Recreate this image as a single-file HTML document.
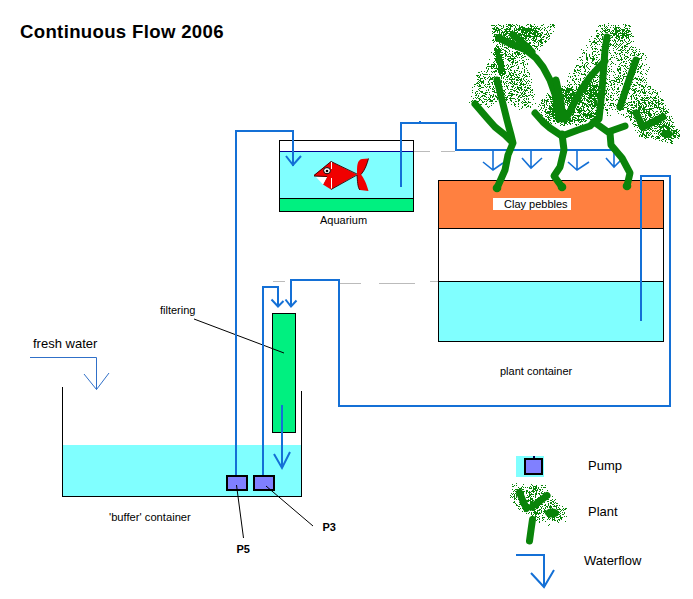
<!DOCTYPE html>
<html><head><meta charset="utf-8">
<style>
html,body{margin:0;padding:0;background:#fff;width:693px;height:599px;overflow:hidden}
svg{position:absolute;left:0;top:0;display:block}
text{font-family:"Liberation Sans",sans-serif;fill:#000}
</style></head><body>
<svg width="693" height="599" viewBox="0 0 693 599">
<rect x="0" y="0" width="693" height="599" fill="#fff"/>
<!-- title -->
<text x="20" y="38" font-size="18.6" font-weight="bold" textLength="203.5" lengthAdjust="spacing">Continuous Flow 2006</text>

<!-- aquarium -->
<g shape-rendering="crispEdges">
<rect x="279.5" y="140.5" width="134" height="71" fill="#fff" stroke="#000" stroke-width="1"/>
<rect x="280" y="152" width="133" height="47" fill="#80ffff"/>
<rect x="280" y="151" width="133" height="1" fill="#000090"/>
<rect x="280" y="199" width="133" height="12" fill="#00f080"/>
<rect x="280" y="198" width="133" height="1" fill="#000"/>
</g>
<text x="320" y="224" font-size="11">Aquarium</text>

<!-- plant container -->
<g shape-rendering="crispEdges">
<rect x="438.5" y="180.5" width="225" height="161" fill="#fff" stroke="#000"/>
<rect x="439" y="181" width="224" height="47" fill="#ff8040"/>
<rect x="439" y="228" width="224" height="1" fill="#000"/>
<rect x="439" y="282" width="224" height="59" fill="#80ffff"/>
<rect x="439" y="281" width="224" height="1" fill="#000"/>
<rect x="493" y="198" width="78" height="12" fill="#fff"/>
</g>
<text x="504" y="208" font-size="11">Clay pebbles</text>
<text x="500" y="375" font-size="11">plant container</text>

<!-- filter -->
<rect x="272.5" y="313.5" width="23" height="119" fill="#00f080" stroke="#000" shape-rendering="crispEdges"/>
<text x="160" y="314" font-size="11">filtering</text>
<line x1="194" y1="319" x2="284" y2="353" stroke="#000" stroke-width="1"/>

<!-- buffer container -->
<g shape-rendering="crispEdges">
<rect x="63" y="445" width="238" height="51" fill="#80ffff"/>
<rect x="62" y="387" width="1" height="110" fill="#000"/>
<rect x="301" y="391" width="1" height="106" fill="#000"/>
<rect x="62" y="496" width="240" height="1" fill="#000"/>
</g>
<text x="109" y="521" font-size="11.2">'buffer' container</text>

<!-- fresh water -->
<text x="33" y="348" font-size="13">fresh water</text>
<path d="M30 357.5H96.5V389.5M84 374L96.5 389.5L109 373" fill="none" stroke="#3070c8" stroke-width="1"/>

<!-- pipes -->
<g fill="none" stroke="#1470d6" stroke-width="2" stroke-linejoin="miter">
<path d="M236 475V131H293V166"/>
<path d="M286 156L293 165L301 156"/>
<path d="M263 475V287H278V306"/>
<path d="M271.5 299.5L278 306.5L283.5 301"/>
<path d="M641 321V176H670V406H339V280H291V306"/>
<path d="M285.5 299.5L291 306.5L296.5 300.5"/>
<path d="M401 187V123H456V150H612"/>
<path d="M419 121.5h2" stroke-width="1"/>
<path d="M282 405V468M274 454L282 468L290 452"/>
</g>
<g fill="none" stroke="#1470d6" stroke-width="1.6">
<path d="M493 150V170M483 162L493 170L503 163"/>
<path d="M531 150V168M522 158L531 168L542 158"/>
<path d="M577 150V170M568 162L577 170L589 162"/>
<path d="M614 150V167M606 158L614 167L622 159"/>
</g>

<!-- gray dashed -->
<g stroke="#bbbbbb" stroke-width="1" shape-rendering="crispEdges">
<line x1="414" y1="151.5" x2="430" y2="151.5"/>
<line x1="441" y1="151.5" x2="455" y2="151.5"/>
<line x1="273" y1="281.5" x2="285" y2="281.5"/>
<line x1="340" y1="283.5" x2="361" y2="283.5"/>
<line x1="379" y1="283.5" x2="415" y2="283.5"/>
<line x1="430" y1="281.5" x2="438" y2="281.5"/>
</g>

<!-- pumps -->
<g shape-rendering="crispEdges">
<rect x="227" y="476" width="20" height="14" fill="#8080ff" stroke="#000" stroke-width="2"/>
<rect x="254" y="476" width="20" height="14" fill="#8080ff" stroke="#000" stroke-width="2"/>
</g>
<line x1="236.5" y1="485" x2="243.5" y2="538" stroke="#000" stroke-width="1"/>
<line x1="266" y1="486" x2="313" y2="526" stroke="#000" stroke-width="1"/>
<text x="236.5" y="552.5" font-size="11" font-weight="bold">P5</text>
<text x="322.5" y="531" font-size="11" font-weight="bold">P3</text>

<!-- legend -->
<rect x="516" y="456" width="28" height="21" fill="#80ffff" shape-rendering="crispEdges"/>
<rect x="525" y="459" width="17" height="15" fill="#8080ff" stroke="#000" stroke-width="2" shape-rendering="crispEdges"/>
<rect x="533" y="456" width="2" height="2" fill="#000050" shape-rendering="crispEdges"/>
<text x="588" y="470" font-size="13">Pump</text>
<text x="588" y="515.5" font-size="13">Plant</text>
<text x="584" y="565" font-size="13">Waterflow</text>
<path d="M516 555H544V587M531 573L544 587L554 570" fill="none" stroke="#1470d6" stroke-width="2"/>

<!-- fish -->
<g>
<path d="M314 175L331 161.5L357 174.5L331 189.5L323 184.5L327 177L314 176Z" fill="#f00000"/>
<path d="M316 177L327 177L323 184.5Z" fill="#fff"/>
<path d="M357 174.5C357 166 357 160 362 159L368.5 158.5C367 164 365 170 361 174.5C364 178 367 185 368.5 191L360 190C357.5 188 357.5 180 357 174.5Z" fill="#f00000"/>
<path d="M314 175.5L331 161.5L357 174M357 175L331 189.5M314 176L327 176.5M361 174.5C365 170 367 164 368.5 158.5M360 190C357.5 188 357.5 180 357 175" fill="none" stroke="#300" stroke-width="0.9"/>
<ellipse cx="327" cy="170.7" rx="3.4" ry="3.1" fill="#fff" stroke="#000" stroke-width="1"/>
<circle cx="327" cy="171" r="1.3" fill="#000"/>
<path d="M331.5 162V169M331.5 178V188.5" stroke="#fff" stroke-width="1"/>
</g>
<!-- plants -->
<!--PLANTS-->
<path fill="#0a840a" shape-rendering="crispEdges" d="M469 102h1v1h-1zM471 96h1v1h-1zM471 101h1v1h-1zM472 87h1v1h-1zM472 90h1v1h-1zM472 92h1v1h-1zM472 100h1v1h-1zM473 98h1v1h-1zM474 84h1v1h-1zM474 86h1v1h-1zM474 100h1v1h-1zM474 101h1v1h-1zM475 84h1v1h-1zM475 92h1v1h-1zM475 93h1v1h-1zM475 95h1v1h-1zM475 97h1v1h-1zM475 100h1v1h-1zM475 103h1v1h-1zM475 104h1v1h-1zM475 105h1v1h-1zM476 75h1v1h-1zM476 83h1v1h-1zM476 91h1v1h-1zM476 94h1v1h-1zM476 95h1v1h-1zM476 98h1v1h-1zM477 75h1v1h-1zM477 76h1v1h-1zM477 79h1v1h-1zM477 82h1v1h-1zM477 83h1v1h-1zM477 85h1v1h-1zM477 91h1v1h-1zM477 93h1v1h-1zM477 97h1v1h-1zM477 101h1v1h-1zM477 102h1v1h-1zM477 105h1v1h-1zM478 72h1v1h-1zM478 75h1v1h-1zM478 77h1v1h-1zM478 79h1v1h-1zM478 81h1v1h-1zM478 83h1v1h-1zM478 86h1v1h-1zM478 89h1v1h-1zM478 95h1v1h-1zM478 96h1v1h-1zM478 98h1v1h-1zM478 101h1v1h-1zM478 103h1v1h-1zM478 105h1v1h-1zM479 72h1v1h-1zM479 76h1v1h-1zM479 77h1v1h-1zM479 80h1v1h-1zM479 82h1v1h-1zM479 84h1v1h-1zM479 85h1v1h-1zM479 86h1v1h-1zM479 88h1v1h-1zM479 90h1v1h-1zM479 93h1v1h-1zM479 98h1v1h-1zM479 99h1v1h-1zM479 100h1v1h-1zM479 105h1v1h-1zM480 74h1v1h-1zM480 75h1v1h-1zM480 78h1v1h-1zM480 79h1v1h-1zM480 80h1v1h-1zM480 81h1v1h-1zM480 85h1v1h-1zM480 86h1v1h-1zM480 88h1v1h-1zM480 91h1v1h-1zM480 97h1v1h-1zM480 99h1v1h-1zM480 104h1v1h-1zM481 71h1v1h-1zM481 78h1v1h-1zM481 81h1v1h-1zM481 82h1v1h-1zM481 83h1v1h-1zM481 87h1v1h-1zM481 91h1v1h-1zM481 92h1v1h-1zM481 96h1v1h-1zM481 100h1v1h-1zM481 104h1v1h-1zM482 73h1v1h-1zM482 78h1v1h-1zM482 81h1v1h-1zM482 82h1v1h-1zM482 87h1v1h-1zM482 91h1v1h-1zM482 92h1v1h-1zM482 95h1v1h-1zM482 96h1v1h-1zM482 101h1v1h-1zM482 102h1v1h-1zM483 74h1v1h-1zM483 76h1v1h-1zM483 80h1v1h-1zM483 81h1v1h-1zM483 82h1v1h-1zM483 83h1v1h-1zM483 87h1v1h-1zM483 93h1v1h-1zM483 95h1v1h-1zM483 98h1v1h-1zM483 102h1v1h-1zM484 71h1v1h-1zM484 74h1v1h-1zM484 77h1v1h-1zM484 78h1v1h-1zM484 85h1v1h-1zM484 93h1v1h-1zM484 95h1v1h-1zM484 96h1v1h-1zM484 99h1v1h-1zM484 101h1v1h-1zM485 74h1v1h-1zM485 77h1v1h-1zM485 79h1v1h-1zM485 84h1v1h-1zM485 86h1v1h-1zM485 92h1v1h-1zM485 93h1v1h-1zM485 94h1v1h-1zM485 96h1v1h-1zM485 99h1v1h-1zM485 104h1v1h-1zM486 67h1v1h-1zM486 68h1v1h-1zM486 72h1v1h-1zM486 74h1v1h-1zM486 87h1v1h-1zM486 90h1v1h-1zM486 92h1v1h-1zM486 94h1v1h-1zM486 97h1v1h-1zM486 99h1v1h-1zM486 101h1v1h-1zM486 103h1v1h-1zM486 104h1v1h-1zM487 64h1v1h-1zM487 66h1v1h-1zM487 70h1v1h-1zM487 71h1v1h-1zM487 74h1v1h-1zM487 78h1v1h-1zM487 84h1v1h-1zM487 86h1v1h-1zM487 92h1v1h-1zM487 100h1v1h-1zM487 106h1v1h-1zM488 63h1v1h-1zM488 64h1v1h-1zM488 66h1v1h-1zM488 68h1v1h-1zM488 69h1v1h-1zM488 77h1v1h-1zM488 81h1v1h-1zM488 82h1v1h-1zM488 84h1v1h-1zM488 89h1v1h-1zM488 90h1v1h-1zM488 97h1v1h-1zM488 99h1v1h-1zM488 107h1v1h-1zM489 59h1v1h-1zM489 66h1v1h-1zM489 74h1v1h-1zM489 76h1v1h-1zM489 79h1v1h-1zM489 80h1v1h-1zM489 83h1v1h-1zM489 84h1v1h-1zM489 86h1v1h-1zM489 87h1v1h-1zM489 92h1v1h-1zM489 94h1v1h-1zM489 98h1v1h-1zM489 99h1v1h-1zM489 101h1v1h-1zM489 106h1v1h-1zM490 66h1v1h-1zM490 77h1v1h-1zM490 78h1v1h-1zM490 79h1v1h-1zM490 86h1v1h-1zM490 88h1v1h-1zM490 95h1v1h-1zM490 96h1v1h-1zM490 97h1v1h-1zM490 99h1v1h-1zM490 100h1v1h-1zM490 101h1v1h-1zM491 25h1v1h-1zM491 52h1v1h-1zM491 64h1v1h-1zM491 65h1v1h-1zM491 66h1v1h-1zM491 67h1v1h-1zM491 68h1v1h-1zM491 71h1v1h-1zM491 74h1v1h-1zM491 78h1v1h-1zM491 79h1v1h-1zM491 82h1v1h-1zM491 95h1v1h-1zM491 100h1v1h-1zM491 101h1v1h-1zM491 103h1v1h-1zM491 105h1v1h-1zM492 25h1v1h-1zM492 28h1v1h-1zM492 31h1v1h-1zM492 33h1v1h-1zM492 40h1v1h-1zM492 64h1v1h-1zM492 66h1v1h-1zM492 68h1v1h-1zM492 72h1v1h-1zM492 77h1v1h-1zM492 78h1v1h-1zM492 79h1v1h-1zM492 82h1v1h-1zM492 83h1v1h-1zM492 84h1v1h-1zM492 88h1v1h-1zM492 89h1v1h-1zM492 91h1v1h-1zM492 96h1v1h-1zM492 97h1v1h-1zM492 100h1v1h-1zM492 101h1v1h-1zM493 25h1v1h-1zM493 28h1v1h-1zM493 29h1v1h-1zM493 32h1v1h-1zM493 36h1v1h-1zM493 39h1v1h-1zM493 40h1v1h-1zM493 42h1v1h-1zM493 53h1v1h-1zM493 54h1v1h-1zM493 62h1v1h-1zM493 64h1v1h-1zM493 65h1v1h-1zM493 66h1v1h-1zM493 67h1v1h-1zM493 71h1v1h-1zM493 77h1v1h-1zM493 81h1v1h-1zM493 86h1v1h-1zM493 87h1v1h-1zM493 89h1v1h-1zM493 91h1v1h-1zM493 94h1v1h-1zM493 95h1v1h-1zM493 96h1v1h-1zM493 99h1v1h-1zM493 103h1v1h-1zM494 25h1v1h-1zM494 27h1v1h-1zM494 28h1v1h-1zM494 29h1v1h-1zM494 31h1v1h-1zM494 32h1v1h-1zM494 34h1v1h-1zM494 35h1v1h-1zM494 36h1v1h-1zM494 41h1v1h-1zM494 48h1v1h-1zM494 49h1v1h-1zM494 50h1v1h-1zM494 52h1v1h-1zM494 54h1v1h-1zM494 55h1v1h-1zM494 58h1v1h-1zM494 61h1v1h-1zM494 63h1v1h-1zM494 64h1v1h-1zM494 65h1v1h-1zM494 66h1v1h-1zM494 68h1v1h-1zM494 71h1v1h-1zM494 72h1v1h-1zM494 76h1v1h-1zM494 81h1v1h-1zM494 82h1v1h-1zM494 83h1v1h-1zM494 84h1v1h-1zM494 88h1v1h-1zM494 90h1v1h-1zM494 91h1v1h-1zM494 92h1v1h-1zM494 98h1v1h-1zM494 99h1v1h-1zM495 26h1v1h-1zM495 29h1v1h-1zM495 30h1v1h-1zM495 31h1v1h-1zM495 34h1v1h-1zM495 36h1v1h-1zM495 37h1v1h-1zM495 38h1v1h-1zM495 39h1v1h-1zM495 40h1v1h-1zM495 47h1v1h-1zM495 48h1v1h-1zM495 49h1v1h-1zM495 50h1v1h-1zM495 51h1v1h-1zM495 52h1v1h-1zM495 53h1v1h-1zM495 54h1v1h-1zM495 56h1v1h-1zM495 58h1v1h-1zM495 59h1v1h-1zM495 60h1v1h-1zM495 64h1v1h-1zM495 68h1v1h-1zM495 70h1v1h-1zM495 71h1v1h-1zM495 74h1v1h-1zM495 81h1v1h-1zM495 92h1v1h-1zM495 95h1v1h-1zM495 96h1v1h-1zM495 101h1v1h-1zM496 25h1v1h-1zM496 27h1v1h-1zM496 28h1v1h-1zM496 29h1v1h-1zM496 30h1v1h-1zM496 34h1v1h-1zM496 35h1v1h-1zM496 41h1v1h-1zM496 45h1v1h-1zM496 46h1v1h-1zM496 48h1v1h-1zM496 49h1v1h-1zM496 50h1v1h-1zM496 51h1v1h-1zM496 52h1v1h-1zM496 53h1v1h-1zM496 54h1v1h-1zM496 55h1v1h-1zM496 56h1v1h-1zM496 57h1v1h-1zM496 58h1v1h-1zM496 59h1v1h-1zM496 60h1v1h-1zM496 61h1v1h-1zM496 62h1v1h-1zM496 65h1v1h-1zM496 66h1v1h-1zM496 67h1v1h-1zM496 68h1v1h-1zM496 70h1v1h-1zM496 71h1v1h-1zM496 78h1v1h-1zM496 80h1v1h-1zM496 82h1v1h-1zM496 83h1v1h-1zM496 84h1v1h-1zM496 85h1v1h-1zM496 92h1v1h-1zM496 96h1v1h-1zM496 97h1v1h-1zM496 101h1v1h-1zM497 27h1v1h-1zM497 28h1v1h-1zM497 30h1v1h-1zM497 31h1v1h-1zM497 32h1v1h-1zM497 35h1v1h-1zM497 36h1v1h-1zM497 37h1v1h-1zM497 39h1v1h-1zM497 40h1v1h-1zM497 44h1v1h-1zM497 46h1v1h-1zM497 47h1v1h-1zM497 49h1v1h-1zM497 50h1v1h-1zM497 51h1v1h-1zM497 52h1v1h-1zM497 53h1v1h-1zM497 54h1v1h-1zM497 55h1v1h-1zM497 56h1v1h-1zM497 57h1v1h-1zM497 58h1v1h-1zM497 59h1v1h-1zM497 60h1v1h-1zM497 61h1v1h-1zM497 62h1v1h-1zM497 63h1v1h-1zM497 64h1v1h-1zM497 68h1v1h-1zM497 69h1v1h-1zM497 77h1v1h-1zM497 79h1v1h-1zM497 81h1v1h-1zM497 82h1v1h-1zM497 83h1v1h-1zM497 89h1v1h-1zM497 90h1v1h-1zM497 91h1v1h-1zM497 95h1v1h-1zM497 97h1v1h-1zM497 98h1v1h-1zM497 99h1v1h-1zM498 24h1v1h-1zM498 28h1v1h-1zM498 29h1v1h-1zM498 30h1v1h-1zM498 35h1v1h-1zM498 36h1v1h-1zM498 37h1v1h-1zM498 38h1v1h-1zM498 46h1v1h-1zM498 47h1v1h-1zM498 48h1v1h-1zM498 49h1v1h-1zM498 50h1v1h-1zM498 51h1v1h-1zM498 52h1v1h-1zM498 53h1v1h-1zM498 54h1v1h-1zM498 55h1v1h-1zM498 56h1v1h-1zM498 57h1v1h-1zM498 58h1v1h-1zM498 59h1v1h-1zM498 60h1v1h-1zM498 61h1v1h-1zM498 62h1v1h-1zM498 63h1v1h-1zM498 64h1v1h-1zM498 65h1v1h-1zM498 66h1v1h-1zM498 67h1v1h-1zM498 68h1v1h-1zM498 69h1v1h-1zM498 70h1v1h-1zM498 71h1v1h-1zM498 72h1v1h-1zM498 89h1v1h-1zM498 92h1v1h-1zM498 97h1v1h-1zM499 25h1v1h-1zM499 29h1v1h-1zM499 30h1v1h-1zM499 31h1v1h-1zM499 32h1v1h-1zM499 33h1v1h-1zM499 34h1v1h-1zM499 36h1v1h-1zM499 42h1v1h-1zM499 43h1v1h-1zM499 48h1v1h-1zM499 49h1v1h-1zM499 50h1v1h-1zM499 51h1v1h-1zM499 52h1v1h-1zM499 53h1v1h-1zM499 54h1v1h-1zM499 55h1v1h-1zM499 56h1v1h-1zM499 57h1v1h-1zM499 58h1v1h-1zM499 59h1v1h-1zM499 60h1v1h-1zM499 61h1v1h-1zM499 62h1v1h-1zM499 63h1v1h-1zM499 64h1v1h-1zM499 65h1v1h-1zM499 66h1v1h-1zM499 67h1v1h-1zM499 68h1v1h-1zM499 69h1v1h-1zM499 70h1v1h-1zM499 71h1v1h-1zM499 72h1v1h-1zM499 73h1v1h-1zM499 74h1v1h-1zM499 77h1v1h-1zM499 82h1v1h-1zM499 83h1v1h-1zM499 88h1v1h-1zM499 89h1v1h-1zM499 93h1v1h-1zM499 94h1v1h-1zM499 95h1v1h-1zM499 96h1v1h-1zM500 25h1v1h-1zM500 29h1v1h-1zM500 34h1v1h-1zM500 38h1v1h-1zM500 39h1v1h-1zM500 40h1v1h-1zM500 44h1v1h-1zM500 46h1v1h-1zM500 49h1v1h-1zM500 50h1v1h-1zM500 51h1v1h-1zM500 52h1v1h-1zM500 54h1v1h-1zM500 55h1v1h-1zM500 56h1v1h-1zM500 57h1v1h-1zM500 58h1v1h-1zM500 59h1v1h-1zM500 60h1v1h-1zM500 61h1v1h-1zM500 62h1v1h-1zM500 63h1v1h-1zM500 64h1v1h-1zM500 65h1v1h-1zM500 66h1v1h-1zM500 67h1v1h-1zM500 68h1v1h-1zM500 69h1v1h-1zM500 70h1v1h-1zM500 71h1v1h-1zM500 72h1v1h-1zM500 73h1v1h-1zM500 74h1v1h-1zM500 75h1v1h-1zM500 84h1v1h-1zM500 85h1v1h-1zM500 88h1v1h-1zM500 94h1v1h-1zM500 95h1v1h-1zM500 96h1v1h-1zM500 97h1v1h-1zM500 98h1v1h-1zM500 101h1v1h-1zM501 26h1v1h-1zM501 28h1v1h-1zM501 30h1v1h-1zM501 32h1v1h-1zM501 33h1v1h-1zM501 34h1v1h-1zM501 36h1v1h-1zM501 37h1v1h-1zM501 39h1v1h-1zM501 48h1v1h-1zM501 50h1v1h-1zM501 52h1v1h-1zM501 54h1v1h-1zM501 55h1v1h-1zM501 56h1v1h-1zM501 57h1v1h-1zM501 58h1v1h-1zM501 59h1v1h-1zM501 60h1v1h-1zM501 61h1v1h-1zM501 62h1v1h-1zM501 63h1v1h-1zM501 64h1v1h-1zM501 65h1v1h-1zM501 66h1v1h-1zM501 67h1v1h-1zM501 68h1v1h-1zM501 69h1v1h-1zM501 70h1v1h-1zM501 71h1v1h-1zM501 72h1v1h-1zM501 73h1v1h-1zM501 75h1v1h-1zM501 76h1v1h-1zM501 77h1v1h-1zM501 78h1v1h-1zM501 80h1v1h-1zM501 81h1v1h-1zM501 82h1v1h-1zM501 84h1v1h-1zM501 88h1v1h-1zM501 90h1v1h-1zM501 91h1v1h-1zM501 92h1v1h-1zM501 94h1v1h-1zM501 97h1v1h-1zM501 100h1v1h-1zM502 28h1v1h-1zM502 31h1v1h-1zM502 32h1v1h-1zM502 36h1v1h-1zM502 37h1v1h-1zM502 39h1v1h-1zM502 41h1v1h-1zM502 43h1v1h-1zM502 44h1v1h-1zM502 45h1v1h-1zM502 46h1v1h-1zM502 49h1v1h-1zM502 52h1v1h-1zM502 54h1v1h-1zM502 55h1v1h-1zM502 57h1v1h-1zM502 59h1v1h-1zM502 60h1v1h-1zM502 61h1v1h-1zM502 62h1v1h-1zM502 63h1v1h-1zM502 64h1v1h-1zM502 65h1v1h-1zM502 66h1v1h-1zM502 67h1v1h-1zM502 68h1v1h-1zM502 69h1v1h-1zM502 70h1v1h-1zM502 71h1v1h-1zM502 72h1v1h-1zM502 73h1v1h-1zM502 74h1v1h-1zM502 75h1v1h-1zM502 86h1v1h-1zM502 95h1v1h-1zM503 25h1v1h-1zM503 26h1v1h-1zM503 27h1v1h-1zM503 32h1v1h-1zM503 33h1v1h-1zM503 34h1v1h-1zM503 35h1v1h-1zM503 39h1v1h-1zM503 40h1v1h-1zM503 42h1v1h-1zM503 49h1v1h-1zM503 54h1v1h-1zM503 57h1v1h-1zM503 59h1v1h-1zM503 61h1v1h-1zM503 62h1v1h-1zM503 63h1v1h-1zM503 64h1v1h-1zM503 65h1v1h-1zM503 66h1v1h-1zM503 67h1v1h-1zM503 68h1v1h-1zM503 69h1v1h-1zM503 70h1v1h-1zM503 71h1v1h-1zM503 73h1v1h-1zM503 74h1v1h-1zM503 77h1v1h-1zM503 78h1v1h-1zM503 81h1v1h-1zM503 82h1v1h-1zM503 90h1v1h-1zM503 92h1v1h-1zM503 94h1v1h-1zM503 95h1v1h-1zM503 96h1v1h-1zM503 99h1v1h-1zM503 100h1v1h-1zM503 101h1v1h-1zM504 29h1v1h-1zM504 31h1v1h-1zM504 32h1v1h-1zM504 34h1v1h-1zM504 35h1v1h-1zM504 36h1v1h-1zM504 37h1v1h-1zM504 38h1v1h-1zM504 39h1v1h-1zM504 41h1v1h-1zM504 42h1v1h-1zM504 43h1v1h-1zM504 45h1v1h-1zM504 47h1v1h-1zM504 50h1v1h-1zM504 53h1v1h-1zM504 65h1v1h-1zM504 66h1v1h-1zM504 68h1v1h-1zM504 69h1v1h-1zM504 70h1v1h-1zM504 71h1v1h-1zM504 72h1v1h-1zM504 73h1v1h-1zM504 74h1v1h-1zM504 76h1v1h-1zM504 83h1v1h-1zM504 84h1v1h-1zM504 86h1v1h-1zM504 90h1v1h-1zM504 91h1v1h-1zM504 93h1v1h-1zM504 94h1v1h-1zM504 98h1v1h-1zM504 99h1v1h-1zM504 100h1v1h-1zM505 29h1v1h-1zM505 30h1v1h-1zM505 31h1v1h-1zM505 33h1v1h-1zM505 34h1v1h-1zM505 35h1v1h-1zM505 37h1v1h-1zM505 38h1v1h-1zM505 39h1v1h-1zM505 40h1v1h-1zM505 42h1v1h-1zM505 47h1v1h-1zM505 50h1v1h-1zM505 51h1v1h-1zM505 52h1v1h-1zM505 53h1v1h-1zM505 54h1v1h-1zM505 55h1v1h-1zM505 56h1v1h-1zM505 58h1v1h-1zM505 69h1v1h-1zM505 71h1v1h-1zM505 72h1v1h-1zM505 73h1v1h-1zM505 79h1v1h-1zM505 82h1v1h-1zM505 89h1v1h-1zM505 92h1v1h-1zM505 95h1v1h-1zM505 97h1v1h-1zM505 99h1v1h-1zM506 24h1v1h-1zM506 26h1v1h-1zM506 28h1v1h-1zM506 29h1v1h-1zM506 30h1v1h-1zM506 31h1v1h-1zM506 32h1v1h-1zM506 33h1v1h-1zM506 34h1v1h-1zM506 36h1v1h-1zM506 38h1v1h-1zM506 39h1v1h-1zM506 40h1v1h-1zM506 42h1v1h-1zM506 47h1v1h-1zM506 48h1v1h-1zM506 51h1v1h-1zM506 54h1v1h-1zM506 55h1v1h-1zM506 65h1v1h-1zM506 69h1v1h-1zM506 75h1v1h-1zM506 77h1v1h-1zM506 81h1v1h-1zM506 83h1v1h-1zM506 85h1v1h-1zM506 86h1v1h-1zM506 97h1v1h-1zM506 98h1v1h-1zM506 99h1v1h-1zM506 100h1v1h-1zM507 26h1v1h-1zM507 28h1v1h-1zM507 29h1v1h-1zM507 31h1v1h-1zM507 32h1v1h-1zM507 33h1v1h-1zM507 36h1v1h-1zM507 37h1v1h-1zM507 38h1v1h-1zM507 40h1v1h-1zM507 41h1v1h-1zM507 48h1v1h-1zM507 52h1v1h-1zM507 56h1v1h-1zM507 59h1v1h-1zM507 64h1v1h-1zM507 67h1v1h-1zM507 68h1v1h-1zM507 76h1v1h-1zM507 77h1v1h-1zM507 79h1v1h-1zM507 81h1v1h-1zM507 86h1v1h-1zM507 87h1v1h-1zM507 88h1v1h-1zM507 96h1v1h-1zM507 97h1v1h-1zM507 99h1v1h-1zM508 24h1v1h-1zM508 25h1v1h-1zM508 27h1v1h-1zM508 29h1v1h-1zM508 31h1v1h-1zM508 33h1v1h-1zM508 35h1v1h-1zM508 38h1v1h-1zM508 44h1v1h-1zM508 45h1v1h-1zM508 46h1v1h-1zM508 47h1v1h-1zM508 49h1v1h-1zM508 54h1v1h-1zM508 56h1v1h-1zM508 58h1v1h-1zM508 59h1v1h-1zM508 60h1v1h-1zM508 65h1v1h-1zM508 66h1v1h-1zM508 69h1v1h-1zM508 71h1v1h-1zM508 75h1v1h-1zM508 76h1v1h-1zM508 83h1v1h-1zM508 85h1v1h-1zM508 89h1v1h-1zM508 93h1v1h-1zM508 95h1v1h-1zM508 102h1v1h-1zM509 24h1v1h-1zM509 25h1v1h-1zM509 28h1v1h-1zM509 29h1v1h-1zM509 30h1v1h-1zM509 31h1v1h-1zM509 33h1v1h-1zM509 34h1v1h-1zM509 35h1v1h-1zM509 37h1v1h-1zM509 38h1v1h-1zM509 50h1v1h-1zM509 51h1v1h-1zM509 53h1v1h-1zM509 56h1v1h-1zM509 58h1v1h-1zM509 60h1v1h-1zM509 61h1v1h-1zM509 68h1v1h-1zM509 72h1v1h-1zM509 73h1v1h-1zM509 74h1v1h-1zM509 78h1v1h-1zM509 79h1v1h-1zM509 82h1v1h-1zM509 92h1v1h-1zM509 93h1v1h-1zM509 95h1v1h-1zM509 98h1v1h-1zM510 24h1v1h-1zM510 25h1v1h-1zM510 26h1v1h-1zM510 27h1v1h-1zM510 28h1v1h-1zM510 29h1v1h-1zM510 31h1v1h-1zM510 32h1v1h-1zM510 35h1v1h-1zM510 38h1v1h-1zM510 39h1v1h-1zM510 41h1v1h-1zM510 44h1v1h-1zM510 46h1v1h-1zM510 47h1v1h-1zM510 54h1v1h-1zM510 56h1v1h-1zM510 57h1v1h-1zM510 58h1v1h-1zM510 60h1v1h-1zM510 64h1v1h-1zM510 67h1v1h-1zM510 69h1v1h-1zM510 70h1v1h-1zM510 73h1v1h-1zM510 74h1v1h-1zM510 75h1v1h-1zM510 77h1v1h-1zM510 79h1v1h-1zM510 82h1v1h-1zM510 83h1v1h-1zM510 89h1v1h-1zM510 91h1v1h-1zM510 93h1v1h-1zM510 95h1v1h-1zM510 97h1v1h-1zM510 98h1v1h-1zM510 99h1v1h-1zM510 100h1v1h-1zM510 495h1v1h-1zM510 497h1v1h-1zM511 25h1v1h-1zM511 26h1v1h-1zM511 31h1v1h-1zM511 32h1v1h-1zM511 33h1v1h-1zM511 35h1v1h-1zM511 36h1v1h-1zM511 37h1v1h-1zM511 38h1v1h-1zM511 40h1v1h-1zM511 44h1v1h-1zM511 46h1v1h-1zM511 55h1v1h-1zM511 58h1v1h-1zM511 59h1v1h-1zM511 62h1v1h-1zM511 66h1v1h-1zM511 67h1v1h-1zM511 70h1v1h-1zM511 72h1v1h-1zM511 75h1v1h-1zM511 76h1v1h-1zM511 77h1v1h-1zM511 79h1v1h-1zM511 80h1v1h-1zM511 81h1v1h-1zM511 83h1v1h-1zM511 86h1v1h-1zM511 89h1v1h-1zM511 91h1v1h-1zM511 93h1v1h-1zM511 94h1v1h-1zM511 95h1v1h-1zM511 96h1v1h-1zM511 98h1v1h-1zM511 100h1v1h-1zM511 101h1v1h-1zM511 104h1v1h-1zM511 493h1v1h-1zM511 496h1v1h-1zM512 24h1v1h-1zM512 26h1v1h-1zM512 30h1v1h-1zM512 31h1v1h-1zM512 32h1v1h-1zM512 33h1v1h-1zM512 34h1v1h-1zM512 36h1v1h-1zM512 37h1v1h-1zM512 39h1v1h-1zM512 40h1v1h-1zM512 41h1v1h-1zM512 42h1v1h-1zM512 48h1v1h-1zM512 51h1v1h-1zM512 53h1v1h-1zM512 54h1v1h-1zM512 55h1v1h-1zM512 56h1v1h-1zM512 58h1v1h-1zM512 59h1v1h-1zM512 61h1v1h-1zM512 62h1v1h-1zM512 63h1v1h-1zM512 64h1v1h-1zM512 66h1v1h-1zM512 73h1v1h-1zM512 75h1v1h-1zM512 78h1v1h-1zM512 79h1v1h-1zM512 81h1v1h-1zM512 82h1v1h-1zM512 84h1v1h-1zM512 86h1v1h-1zM512 87h1v1h-1zM512 89h1v1h-1zM512 93h1v1h-1zM512 94h1v1h-1zM512 95h1v1h-1zM512 98h1v1h-1zM512 484h1v1h-1zM512 486h1v1h-1zM512 489h1v1h-1zM512 494h1v1h-1zM512 497h1v1h-1zM513 25h1v1h-1zM513 32h1v1h-1zM513 34h1v1h-1zM513 35h1v1h-1zM513 36h1v1h-1zM513 37h1v1h-1zM513 40h1v1h-1zM513 41h1v1h-1zM513 42h1v1h-1zM513 43h1v1h-1zM513 44h1v1h-1zM513 56h1v1h-1zM513 58h1v1h-1zM513 59h1v1h-1zM513 60h1v1h-1zM513 61h1v1h-1zM513 62h1v1h-1zM513 66h1v1h-1zM513 73h1v1h-1zM513 74h1v1h-1zM513 75h1v1h-1zM513 79h1v1h-1zM513 83h1v1h-1zM513 85h1v1h-1zM513 86h1v1h-1zM513 90h1v1h-1zM513 94h1v1h-1zM513 98h1v1h-1zM513 102h1v1h-1zM513 486h1v1h-1zM513 491h1v1h-1zM513 493h1v1h-1zM513 496h1v1h-1zM513 502h1v1h-1zM514 25h1v1h-1zM514 28h1v1h-1zM514 29h1v1h-1zM514 30h1v1h-1zM514 31h1v1h-1zM514 32h1v1h-1zM514 36h1v1h-1zM514 38h1v1h-1zM514 41h1v1h-1zM514 42h1v1h-1zM514 52h1v1h-1zM514 53h1v1h-1zM514 57h1v1h-1zM514 58h1v1h-1zM514 65h1v1h-1zM514 70h1v1h-1zM514 71h1v1h-1zM514 72h1v1h-1zM514 76h1v1h-1zM514 78h1v1h-1zM514 79h1v1h-1zM514 81h1v1h-1zM514 82h1v1h-1zM514 83h1v1h-1zM514 84h1v1h-1zM514 88h1v1h-1zM514 90h1v1h-1zM514 91h1v1h-1zM514 94h1v1h-1zM514 98h1v1h-1zM514 103h1v1h-1zM514 104h1v1h-1zM514 105h1v1h-1zM514 485h1v1h-1zM514 490h1v1h-1zM514 494h1v1h-1zM514 495h1v1h-1zM514 496h1v1h-1zM514 497h1v1h-1zM514 498h1v1h-1zM514 499h1v1h-1zM514 501h1v1h-1zM514 502h1v1h-1zM515 26h1v1h-1zM515 27h1v1h-1zM515 30h1v1h-1zM515 32h1v1h-1zM515 43h1v1h-1zM515 47h1v1h-1zM515 49h1v1h-1zM515 52h1v1h-1zM515 53h1v1h-1zM515 54h1v1h-1zM515 56h1v1h-1zM515 58h1v1h-1zM515 60h1v1h-1zM515 62h1v1h-1zM515 63h1v1h-1zM515 72h1v1h-1zM515 74h1v1h-1zM515 77h1v1h-1zM515 84h1v1h-1zM515 87h1v1h-1zM515 90h1v1h-1zM515 99h1v1h-1zM515 101h1v1h-1zM515 104h1v1h-1zM515 106h1v1h-1zM515 489h1v1h-1zM515 491h1v1h-1zM515 493h1v1h-1zM515 498h1v1h-1zM515 503h1v1h-1zM516 24h1v1h-1zM516 28h1v1h-1zM516 29h1v1h-1zM516 30h1v1h-1zM516 32h1v1h-1zM516 33h1v1h-1zM516 34h1v1h-1zM516 42h1v1h-1zM516 43h1v1h-1zM516 48h1v1h-1zM516 51h1v1h-1zM516 52h1v1h-1zM516 55h1v1h-1zM516 56h1v1h-1zM516 62h1v1h-1zM516 65h1v1h-1zM516 70h1v1h-1zM516 74h1v1h-1zM516 75h1v1h-1zM516 77h1v1h-1zM516 79h1v1h-1zM516 80h1v1h-1zM516 83h1v1h-1zM516 84h1v1h-1zM516 89h1v1h-1zM516 91h1v1h-1zM516 94h1v1h-1zM516 95h1v1h-1zM516 101h1v1h-1zM516 483h1v1h-1zM516 485h1v1h-1zM516 489h1v1h-1zM516 491h1v1h-1zM516 492h1v1h-1zM516 494h1v1h-1zM516 495h1v1h-1zM516 496h1v1h-1zM516 497h1v1h-1zM516 499h1v1h-1zM516 504h1v1h-1zM516 505h1v1h-1zM517 25h1v1h-1zM517 29h1v1h-1zM517 31h1v1h-1zM517 32h1v1h-1zM517 37h1v1h-1zM517 49h1v1h-1zM517 51h1v1h-1zM517 52h1v1h-1zM517 53h1v1h-1zM517 54h1v1h-1zM517 57h1v1h-1zM517 61h1v1h-1zM517 62h1v1h-1zM517 64h1v1h-1zM517 68h1v1h-1zM517 70h1v1h-1zM517 76h1v1h-1zM517 77h1v1h-1zM517 79h1v1h-1zM517 80h1v1h-1zM517 82h1v1h-1zM517 84h1v1h-1zM517 86h1v1h-1zM517 87h1v1h-1zM517 88h1v1h-1zM517 91h1v1h-1zM517 92h1v1h-1zM517 94h1v1h-1zM517 98h1v1h-1zM517 489h1v1h-1zM517 491h1v1h-1zM517 493h1v1h-1zM517 495h1v1h-1zM517 505h1v1h-1zM518 28h1v1h-1zM518 29h1v1h-1zM518 30h1v1h-1zM518 33h1v1h-1zM518 34h1v1h-1zM518 38h1v1h-1zM518 45h1v1h-1zM518 48h1v1h-1zM518 49h1v1h-1zM518 52h1v1h-1zM518 53h1v1h-1zM518 54h1v1h-1zM518 55h1v1h-1zM518 66h1v1h-1zM518 67h1v1h-1zM518 68h1v1h-1zM518 74h1v1h-1zM518 77h1v1h-1zM518 78h1v1h-1zM518 80h1v1h-1zM518 87h1v1h-1zM518 88h1v1h-1zM518 89h1v1h-1zM518 92h1v1h-1zM518 96h1v1h-1zM518 97h1v1h-1zM518 99h1v1h-1zM518 100h1v1h-1zM518 101h1v1h-1zM518 103h1v1h-1zM518 104h1v1h-1zM518 106h1v1h-1zM518 487h1v1h-1zM518 494h1v1h-1zM518 495h1v1h-1zM518 497h1v1h-1zM518 499h1v1h-1zM518 506h1v1h-1zM518 508h1v1h-1zM519 25h1v1h-1zM519 26h1v1h-1zM519 27h1v1h-1zM519 28h1v1h-1zM519 29h1v1h-1zM519 30h1v1h-1zM519 33h1v1h-1zM519 34h1v1h-1zM519 35h1v1h-1zM519 42h1v1h-1zM519 48h1v1h-1zM519 49h1v1h-1zM519 52h1v1h-1zM519 53h1v1h-1zM519 54h1v1h-1zM519 57h1v1h-1zM519 60h1v1h-1zM519 71h1v1h-1zM519 73h1v1h-1zM519 75h1v1h-1zM519 77h1v1h-1zM519 79h1v1h-1zM519 82h1v1h-1zM519 85h1v1h-1zM519 87h1v1h-1zM519 89h1v1h-1zM519 90h1v1h-1zM519 95h1v1h-1zM519 96h1v1h-1zM519 99h1v1h-1zM519 100h1v1h-1zM519 109h1v1h-1zM519 488h1v1h-1zM519 489h1v1h-1zM519 491h1v1h-1zM519 493h1v1h-1zM519 494h1v1h-1zM519 495h1v1h-1zM519 498h1v1h-1zM519 499h1v1h-1zM519 500h1v1h-1zM519 502h1v1h-1zM519 504h1v1h-1zM519 506h1v1h-1zM519 509h1v1h-1zM520 27h1v1h-1zM520 28h1v1h-1zM520 29h1v1h-1zM520 33h1v1h-1zM520 34h1v1h-1zM520 35h1v1h-1zM520 38h1v1h-1zM520 39h1v1h-1zM520 41h1v1h-1zM520 42h1v1h-1zM520 44h1v1h-1zM520 49h1v1h-1zM520 50h1v1h-1zM520 54h1v1h-1zM520 63h1v1h-1zM520 73h1v1h-1zM520 79h1v1h-1zM520 80h1v1h-1zM520 81h1v1h-1zM520 83h1v1h-1zM520 84h1v1h-1zM520 85h1v1h-1zM520 87h1v1h-1zM520 88h1v1h-1zM520 92h1v1h-1zM520 95h1v1h-1zM520 97h1v1h-1zM520 488h1v1h-1zM520 491h1v1h-1zM520 492h1v1h-1zM520 493h1v1h-1zM520 495h1v1h-1zM520 497h1v1h-1zM520 500h1v1h-1zM520 503h1v1h-1zM520 504h1v1h-1zM520 508h1v1h-1zM521 26h1v1h-1zM521 27h1v1h-1zM521 29h1v1h-1zM521 30h1v1h-1zM521 31h1v1h-1zM521 32h1v1h-1zM521 34h1v1h-1zM521 35h1v1h-1zM521 36h1v1h-1zM521 37h1v1h-1zM521 38h1v1h-1zM521 40h1v1h-1zM521 41h1v1h-1zM521 42h1v1h-1zM521 50h1v1h-1zM521 51h1v1h-1zM521 53h1v1h-1zM521 56h1v1h-1zM521 58h1v1h-1zM521 63h1v1h-1zM521 71h1v1h-1zM521 72h1v1h-1zM521 78h1v1h-1zM521 79h1v1h-1zM521 80h1v1h-1zM521 82h1v1h-1zM521 83h1v1h-1zM521 84h1v1h-1zM521 86h1v1h-1zM521 87h1v1h-1zM521 88h1v1h-1zM521 89h1v1h-1zM521 90h1v1h-1zM521 93h1v1h-1zM521 94h1v1h-1zM521 97h1v1h-1zM521 102h1v1h-1zM521 108h1v1h-1zM521 487h1v1h-1zM521 488h1v1h-1zM521 491h1v1h-1zM521 492h1v1h-1zM521 494h1v1h-1zM521 495h1v1h-1zM521 499h1v1h-1zM521 505h1v1h-1zM522 26h1v1h-1zM522 27h1v1h-1zM522 28h1v1h-1zM522 29h1v1h-1zM522 30h1v1h-1zM522 31h1v1h-1zM522 32h1v1h-1zM522 33h1v1h-1zM522 34h1v1h-1zM522 37h1v1h-1zM522 38h1v1h-1zM522 43h1v1h-1zM522 45h1v1h-1zM522 49h1v1h-1zM522 55h1v1h-1zM522 57h1v1h-1zM522 60h1v1h-1zM522 62h1v1h-1zM522 68h1v1h-1zM522 76h1v1h-1zM522 81h1v1h-1zM522 84h1v1h-1zM522 89h1v1h-1zM522 92h1v1h-1zM522 93h1v1h-1zM522 95h1v1h-1zM522 96h1v1h-1zM522 101h1v1h-1zM522 103h1v1h-1zM522 106h1v1h-1zM522 107h1v1h-1zM522 486h1v1h-1zM522 489h1v1h-1zM522 491h1v1h-1zM522 495h1v1h-1zM522 496h1v1h-1zM522 498h1v1h-1zM522 502h1v1h-1zM522 505h1v1h-1zM522 508h1v1h-1zM522 511h1v1h-1zM523 27h1v1h-1zM523 28h1v1h-1zM523 29h1v1h-1zM523 30h1v1h-1zM523 31h1v1h-1zM523 32h1v1h-1zM523 34h1v1h-1zM523 35h1v1h-1zM523 37h1v1h-1zM523 38h1v1h-1zM523 39h1v1h-1zM523 40h1v1h-1zM523 42h1v1h-1zM523 46h1v1h-1zM523 53h1v1h-1zM523 57h1v1h-1zM523 60h1v1h-1zM523 62h1v1h-1zM523 63h1v1h-1zM523 64h1v1h-1zM523 65h1v1h-1zM523 74h1v1h-1zM523 75h1v1h-1zM523 78h1v1h-1zM523 79h1v1h-1zM523 83h1v1h-1zM523 84h1v1h-1zM523 85h1v1h-1zM523 91h1v1h-1zM523 94h1v1h-1zM523 96h1v1h-1zM523 99h1v1h-1zM523 102h1v1h-1zM523 484h1v1h-1zM523 487h1v1h-1zM523 489h1v1h-1zM523 491h1v1h-1zM523 492h1v1h-1zM523 493h1v1h-1zM523 494h1v1h-1zM523 496h1v1h-1zM523 497h1v1h-1zM523 501h1v1h-1zM523 502h1v1h-1zM523 505h1v1h-1zM523 507h1v1h-1zM523 509h1v1h-1zM524 27h1v1h-1zM524 28h1v1h-1zM524 29h1v1h-1zM524 30h1v1h-1zM524 32h1v1h-1zM524 33h1v1h-1zM524 34h1v1h-1zM524 35h1v1h-1zM524 36h1v1h-1zM524 38h1v1h-1zM524 42h1v1h-1zM524 45h1v1h-1zM524 47h1v1h-1zM524 49h1v1h-1zM524 51h1v1h-1zM524 53h1v1h-1zM524 54h1v1h-1zM524 56h1v1h-1zM524 61h1v1h-1zM524 66h1v1h-1zM524 67h1v1h-1zM524 69h1v1h-1zM524 70h1v1h-1zM524 71h1v1h-1zM524 72h1v1h-1zM524 75h1v1h-1zM524 77h1v1h-1zM524 80h1v1h-1zM524 84h1v1h-1zM524 87h1v1h-1zM524 89h1v1h-1zM524 90h1v1h-1zM524 92h1v1h-1zM524 93h1v1h-1zM524 94h1v1h-1zM524 96h1v1h-1zM524 98h1v1h-1zM524 100h1v1h-1zM524 102h1v1h-1zM524 104h1v1h-1zM524 105h1v1h-1zM524 491h1v1h-1zM524 500h1v1h-1zM524 504h1v1h-1zM524 507h1v1h-1zM524 511h1v1h-1zM525 28h1v1h-1zM525 29h1v1h-1zM525 30h1v1h-1zM525 31h1v1h-1zM525 32h1v1h-1zM525 33h1v1h-1zM525 35h1v1h-1zM525 36h1v1h-1zM525 37h1v1h-1zM525 38h1v1h-1zM525 39h1v1h-1zM525 44h1v1h-1zM525 45h1v1h-1zM525 52h1v1h-1zM525 56h1v1h-1zM525 64h1v1h-1zM525 74h1v1h-1zM525 76h1v1h-1zM525 81h1v1h-1zM525 84h1v1h-1zM525 86h1v1h-1zM525 87h1v1h-1zM525 90h1v1h-1zM525 91h1v1h-1zM525 93h1v1h-1zM525 95h1v1h-1zM525 101h1v1h-1zM525 102h1v1h-1zM525 104h1v1h-1zM525 105h1v1h-1zM525 487h1v1h-1zM525 500h1v1h-1zM525 501h1v1h-1zM525 504h1v1h-1zM525 510h1v1h-1zM526 25h1v1h-1zM526 28h1v1h-1zM526 29h1v1h-1zM526 30h1v1h-1zM526 31h1v1h-1zM526 32h1v1h-1zM526 33h1v1h-1zM526 34h1v1h-1zM526 35h1v1h-1zM526 36h1v1h-1zM526 37h1v1h-1zM526 38h1v1h-1zM526 40h1v1h-1zM526 45h1v1h-1zM526 49h1v1h-1zM526 53h1v1h-1zM526 59h1v1h-1zM526 68h1v1h-1zM526 75h1v1h-1zM526 76h1v1h-1zM526 79h1v1h-1zM526 82h1v1h-1zM526 83h1v1h-1zM526 89h1v1h-1zM526 90h1v1h-1zM526 95h1v1h-1zM526 96h1v1h-1zM526 98h1v1h-1zM526 99h1v1h-1zM526 102h1v1h-1zM526 104h1v1h-1zM526 107h1v1h-1zM526 490h1v1h-1zM526 491h1v1h-1zM526 492h1v1h-1zM526 493h1v1h-1zM526 497h1v1h-1zM526 500h1v1h-1zM526 502h1v1h-1zM526 507h1v1h-1zM526 513h1v1h-1zM527 24h1v1h-1zM527 28h1v1h-1zM527 29h1v1h-1zM527 30h1v1h-1zM527 31h1v1h-1zM527 32h1v1h-1zM527 35h1v1h-1zM527 36h1v1h-1zM527 40h1v1h-1zM527 45h1v1h-1zM527 46h1v1h-1zM527 47h1v1h-1zM527 49h1v1h-1zM527 54h1v1h-1zM527 63h1v1h-1zM527 64h1v1h-1zM527 70h1v1h-1zM527 72h1v1h-1zM527 76h1v1h-1zM527 81h1v1h-1zM527 85h1v1h-1zM527 87h1v1h-1zM527 88h1v1h-1zM527 90h1v1h-1zM527 96h1v1h-1zM527 103h1v1h-1zM527 106h1v1h-1zM527 487h1v1h-1zM527 490h1v1h-1zM527 491h1v1h-1zM527 495h1v1h-1zM527 497h1v1h-1zM527 500h1v1h-1zM527 501h1v1h-1zM527 504h1v1h-1zM527 506h1v1h-1zM527 510h1v1h-1zM528 24h1v1h-1zM528 27h1v1h-1zM528 28h1v1h-1zM528 29h1v1h-1zM528 30h1v1h-1zM528 31h1v1h-1zM528 33h1v1h-1zM528 34h1v1h-1zM528 35h1v1h-1zM528 36h1v1h-1zM528 38h1v1h-1zM528 39h1v1h-1zM528 43h1v1h-1zM528 44h1v1h-1zM528 45h1v1h-1zM528 52h1v1h-1zM528 59h1v1h-1zM528 72h1v1h-1zM528 80h1v1h-1zM528 83h1v1h-1zM528 87h1v1h-1zM528 88h1v1h-1zM528 92h1v1h-1zM528 95h1v1h-1zM528 98h1v1h-1zM528 99h1v1h-1zM528 101h1v1h-1zM528 102h1v1h-1zM528 105h1v1h-1zM528 106h1v1h-1zM528 492h1v1h-1zM528 496h1v1h-1zM528 497h1v1h-1zM528 499h1v1h-1zM528 500h1v1h-1zM528 501h1v1h-1zM528 504h1v1h-1zM528 505h1v1h-1zM528 510h1v1h-1zM528 513h1v1h-1zM529 28h1v1h-1zM529 29h1v1h-1zM529 30h1v1h-1zM529 31h1v1h-1zM529 32h1v1h-1zM529 33h1v1h-1zM529 34h1v1h-1zM529 35h1v1h-1zM529 36h1v1h-1zM529 37h1v1h-1zM529 40h1v1h-1zM529 42h1v1h-1zM529 43h1v1h-1zM529 44h1v1h-1zM529 45h1v1h-1zM529 49h1v1h-1zM529 56h1v1h-1zM529 73h1v1h-1zM529 74h1v1h-1zM529 76h1v1h-1zM529 81h1v1h-1zM529 85h1v1h-1zM529 88h1v1h-1zM529 95h1v1h-1zM529 102h1v1h-1zM529 487h1v1h-1zM529 488h1v1h-1zM529 491h1v1h-1zM529 492h1v1h-1zM529 493h1v1h-1zM529 494h1v1h-1zM529 495h1v1h-1zM529 496h1v1h-1zM529 500h1v1h-1zM529 508h1v1h-1zM529 509h1v1h-1zM529 512h1v1h-1zM530 24h1v1h-1zM530 25h1v1h-1zM530 26h1v1h-1zM530 28h1v1h-1zM530 29h1v1h-1zM530 30h1v1h-1zM530 31h1v1h-1zM530 32h1v1h-1zM530 33h1v1h-1zM530 35h1v1h-1zM530 36h1v1h-1zM530 37h1v1h-1zM530 42h1v1h-1zM530 43h1v1h-1zM530 45h1v1h-1zM530 46h1v1h-1zM530 53h1v1h-1zM530 85h1v1h-1zM530 87h1v1h-1zM530 89h1v1h-1zM530 91h1v1h-1zM530 92h1v1h-1zM530 94h1v1h-1zM530 102h1v1h-1zM530 106h1v1h-1zM530 107h1v1h-1zM530 486h1v1h-1zM530 488h1v1h-1zM530 492h1v1h-1zM530 494h1v1h-1zM530 495h1v1h-1zM530 497h1v1h-1zM530 498h1v1h-1zM530 499h1v1h-1zM530 500h1v1h-1zM530 501h1v1h-1zM530 502h1v1h-1zM530 503h1v1h-1zM530 504h1v1h-1zM530 505h1v1h-1zM530 506h1v1h-1zM530 508h1v1h-1zM530 510h1v1h-1zM531 25h1v1h-1zM531 26h1v1h-1zM531 27h1v1h-1zM531 28h1v1h-1zM531 29h1v1h-1zM531 30h1v1h-1zM531 32h1v1h-1zM531 33h1v1h-1zM531 36h1v1h-1zM531 39h1v1h-1zM531 46h1v1h-1zM531 48h1v1h-1zM531 49h1v1h-1zM531 51h1v1h-1zM531 54h1v1h-1zM531 57h1v1h-1zM531 79h1v1h-1zM531 82h1v1h-1zM531 90h1v1h-1zM531 95h1v1h-1zM531 484h1v1h-1zM531 487h1v1h-1zM531 488h1v1h-1zM531 491h1v1h-1zM531 493h1v1h-1zM531 494h1v1h-1zM531 496h1v1h-1zM531 498h1v1h-1zM531 499h1v1h-1zM531 501h1v1h-1zM531 502h1v1h-1zM531 503h1v1h-1zM531 504h1v1h-1zM531 505h1v1h-1zM531 506h1v1h-1zM531 507h1v1h-1zM531 508h1v1h-1zM531 509h1v1h-1zM531 512h1v1h-1zM531 513h1v1h-1zM531 514h1v1h-1zM531 516h1v1h-1zM532 26h1v1h-1zM532 29h1v1h-1zM532 30h1v1h-1zM532 31h1v1h-1zM532 33h1v1h-1zM532 34h1v1h-1zM532 36h1v1h-1zM532 38h1v1h-1zM532 40h1v1h-1zM532 45h1v1h-1zM532 49h1v1h-1zM532 51h1v1h-1zM532 53h1v1h-1zM532 89h1v1h-1zM532 90h1v1h-1zM532 92h1v1h-1zM532 95h1v1h-1zM532 97h1v1h-1zM532 104h1v1h-1zM532 485h1v1h-1zM532 490h1v1h-1zM532 491h1v1h-1zM532 494h1v1h-1zM532 498h1v1h-1zM532 499h1v1h-1zM532 500h1v1h-1zM532 501h1v1h-1zM532 502h1v1h-1zM532 503h1v1h-1zM532 505h1v1h-1zM532 506h1v1h-1zM532 507h1v1h-1zM532 508h1v1h-1zM532 510h1v1h-1zM532 515h1v1h-1zM533 26h1v1h-1zM533 28h1v1h-1zM533 29h1v1h-1zM533 30h1v1h-1zM533 32h1v1h-1zM533 33h1v1h-1zM533 34h1v1h-1zM533 36h1v1h-1zM533 37h1v1h-1zM533 38h1v1h-1zM533 39h1v1h-1zM533 40h1v1h-1zM533 42h1v1h-1zM533 45h1v1h-1zM533 51h1v1h-1zM533 55h1v1h-1zM533 96h1v1h-1zM533 99h1v1h-1zM533 486h1v1h-1zM533 487h1v1h-1zM533 488h1v1h-1zM533 489h1v1h-1zM533 490h1v1h-1zM533 491h1v1h-1zM533 492h1v1h-1zM533 494h1v1h-1zM533 496h1v1h-1zM533 500h1v1h-1zM533 502h1v1h-1zM533 503h1v1h-1zM533 505h1v1h-1zM533 507h1v1h-1zM533 509h1v1h-1zM533 510h1v1h-1zM533 512h1v1h-1zM533 514h1v1h-1zM534 24h1v1h-1zM534 27h1v1h-1zM534 28h1v1h-1zM534 30h1v1h-1zM534 31h1v1h-1zM534 32h1v1h-1zM534 33h1v1h-1zM534 34h1v1h-1zM534 35h1v1h-1zM534 36h1v1h-1zM534 37h1v1h-1zM534 38h1v1h-1zM534 40h1v1h-1zM534 41h1v1h-1zM534 43h1v1h-1zM534 45h1v1h-1zM534 46h1v1h-1zM534 94h1v1h-1zM534 486h1v1h-1zM534 488h1v1h-1zM534 489h1v1h-1zM534 491h1v1h-1zM534 501h1v1h-1zM534 502h1v1h-1zM534 504h1v1h-1zM534 505h1v1h-1zM534 506h1v1h-1zM534 509h1v1h-1zM534 510h1v1h-1zM534 511h1v1h-1zM534 512h1v1h-1zM534 513h1v1h-1zM535 26h1v1h-1zM535 28h1v1h-1zM535 29h1v1h-1zM535 30h1v1h-1zM535 31h1v1h-1zM535 32h1v1h-1zM535 33h1v1h-1zM535 34h1v1h-1zM535 35h1v1h-1zM535 36h1v1h-1zM535 39h1v1h-1zM535 40h1v1h-1zM535 41h1v1h-1zM535 46h1v1h-1zM535 48h1v1h-1zM535 54h1v1h-1zM535 103h1v1h-1zM535 486h1v1h-1zM535 487h1v1h-1zM535 488h1v1h-1zM535 489h1v1h-1zM535 490h1v1h-1zM535 493h1v1h-1zM535 494h1v1h-1zM535 495h1v1h-1zM535 496h1v1h-1zM535 497h1v1h-1zM535 499h1v1h-1zM535 500h1v1h-1zM535 509h1v1h-1zM535 511h1v1h-1zM535 512h1v1h-1zM535 513h1v1h-1zM535 514h1v1h-1zM535 515h1v1h-1zM535 516h1v1h-1zM535 517h1v1h-1zM536 27h1v1h-1zM536 28h1v1h-1zM536 30h1v1h-1zM536 31h1v1h-1zM536 32h1v1h-1zM536 35h1v1h-1zM536 36h1v1h-1zM536 37h1v1h-1zM536 38h1v1h-1zM536 39h1v1h-1zM536 42h1v1h-1zM536 46h1v1h-1zM536 47h1v1h-1zM536 485h1v1h-1zM536 486h1v1h-1zM536 487h1v1h-1zM536 488h1v1h-1zM536 490h1v1h-1zM536 491h1v1h-1zM536 492h1v1h-1zM536 493h1v1h-1zM536 494h1v1h-1zM536 499h1v1h-1zM536 503h1v1h-1zM536 504h1v1h-1zM536 505h1v1h-1zM536 506h1v1h-1zM536 507h1v1h-1zM536 508h1v1h-1zM536 512h1v1h-1zM536 513h1v1h-1zM536 514h1v1h-1zM536 516h1v1h-1zM536 520h1v1h-1zM537 26h1v1h-1zM537 28h1v1h-1zM537 31h1v1h-1zM537 32h1v1h-1zM537 33h1v1h-1zM537 34h1v1h-1zM537 35h1v1h-1zM537 36h1v1h-1zM537 41h1v1h-1zM537 46h1v1h-1zM537 48h1v1h-1zM537 49h1v1h-1zM537 489h1v1h-1zM537 490h1v1h-1zM537 498h1v1h-1zM537 499h1v1h-1zM537 501h1v1h-1zM537 502h1v1h-1zM537 504h1v1h-1zM537 506h1v1h-1zM537 507h1v1h-1zM537 508h1v1h-1zM537 510h1v1h-1zM537 511h1v1h-1zM537 512h1v1h-1zM537 513h1v1h-1zM537 517h1v1h-1zM537 519h1v1h-1zM538 28h1v1h-1zM538 29h1v1h-1zM538 31h1v1h-1zM538 33h1v1h-1zM538 34h1v1h-1zM538 36h1v1h-1zM538 40h1v1h-1zM538 42h1v1h-1zM538 43h1v1h-1zM538 44h1v1h-1zM538 45h1v1h-1zM538 106h1v1h-1zM538 487h1v1h-1zM538 488h1v1h-1zM538 493h1v1h-1zM538 497h1v1h-1zM538 498h1v1h-1zM538 499h1v1h-1zM538 500h1v1h-1zM538 501h1v1h-1zM538 504h1v1h-1zM538 505h1v1h-1zM538 506h1v1h-1zM538 507h1v1h-1zM538 510h1v1h-1zM538 513h1v1h-1zM538 514h1v1h-1zM538 517h1v1h-1zM539 28h1v1h-1zM539 29h1v1h-1zM539 33h1v1h-1zM539 35h1v1h-1zM539 36h1v1h-1zM539 40h1v1h-1zM539 41h1v1h-1zM539 50h1v1h-1zM539 104h1v1h-1zM539 110h1v1h-1zM539 489h1v1h-1zM539 491h1v1h-1zM539 493h1v1h-1zM539 494h1v1h-1zM539 497h1v1h-1zM539 499h1v1h-1zM539 505h1v1h-1zM539 509h1v1h-1zM539 510h1v1h-1zM539 512h1v1h-1zM539 513h1v1h-1zM539 516h1v1h-1zM539 518h1v1h-1zM539 519h1v1h-1zM539 521h1v1h-1zM539 522h1v1h-1zM540 27h1v1h-1zM540 30h1v1h-1zM540 33h1v1h-1zM540 34h1v1h-1zM540 35h1v1h-1zM540 36h1v1h-1zM540 37h1v1h-1zM540 39h1v1h-1zM540 40h1v1h-1zM540 41h1v1h-1zM540 42h1v1h-1zM540 44h1v1h-1zM540 46h1v1h-1zM540 105h1v1h-1zM540 109h1v1h-1zM540 489h1v1h-1zM540 490h1v1h-1zM540 495h1v1h-1zM540 496h1v1h-1zM540 497h1v1h-1zM540 498h1v1h-1zM540 501h1v1h-1zM540 504h1v1h-1zM540 506h1v1h-1zM540 509h1v1h-1zM540 513h1v1h-1zM541 25h1v1h-1zM541 29h1v1h-1zM541 32h1v1h-1zM541 34h1v1h-1zM541 35h1v1h-1zM541 38h1v1h-1zM541 39h1v1h-1zM541 40h1v1h-1zM541 41h1v1h-1zM541 42h1v1h-1zM541 43h1v1h-1zM541 45h1v1h-1zM541 100h1v1h-1zM541 102h1v1h-1zM541 103h1v1h-1zM541 107h1v1h-1zM541 108h1v1h-1zM541 112h1v1h-1zM541 114h1v1h-1zM541 485h1v1h-1zM541 487h1v1h-1zM541 492h1v1h-1zM541 493h1v1h-1zM541 498h1v1h-1zM541 501h1v1h-1zM541 502h1v1h-1zM541 504h1v1h-1zM541 507h1v1h-1zM541 508h1v1h-1zM541 510h1v1h-1zM541 511h1v1h-1zM541 512h1v1h-1zM542 25h1v1h-1zM542 28h1v1h-1zM542 32h1v1h-1zM542 33h1v1h-1zM542 37h1v1h-1zM542 39h1v1h-1zM542 42h1v1h-1zM542 43h1v1h-1zM542 45h1v1h-1zM542 99h1v1h-1zM542 100h1v1h-1zM542 101h1v1h-1zM542 103h1v1h-1zM542 105h1v1h-1zM542 110h1v1h-1zM542 115h1v1h-1zM542 117h1v1h-1zM542 118h1v1h-1zM542 485h1v1h-1zM542 489h1v1h-1zM542 491h1v1h-1zM542 493h1v1h-1zM542 495h1v1h-1zM542 498h1v1h-1zM542 504h1v1h-1zM542 506h1v1h-1zM542 515h1v1h-1zM542 517h1v1h-1zM542 518h1v1h-1zM542 520h1v1h-1zM543 24h1v1h-1zM543 36h1v1h-1zM543 37h1v1h-1zM543 39h1v1h-1zM543 103h1v1h-1zM543 105h1v1h-1zM543 108h1v1h-1zM543 487h1v1h-1zM543 493h1v1h-1zM543 498h1v1h-1zM543 501h1v1h-1zM543 508h1v1h-1zM543 511h1v1h-1zM543 513h1v1h-1zM543 517h1v1h-1zM543 519h1v1h-1zM544 27h1v1h-1zM544 29h1v1h-1zM544 30h1v1h-1zM544 34h1v1h-1zM544 36h1v1h-1zM544 41h1v1h-1zM544 99h1v1h-1zM544 100h1v1h-1zM544 101h1v1h-1zM544 102h1v1h-1zM544 104h1v1h-1zM544 105h1v1h-1zM544 106h1v1h-1zM544 107h1v1h-1zM544 111h1v1h-1zM544 118h1v1h-1zM544 487h1v1h-1zM544 492h1v1h-1zM544 495h1v1h-1zM544 496h1v1h-1zM544 497h1v1h-1zM544 499h1v1h-1zM544 502h1v1h-1zM544 505h1v1h-1zM544 509h1v1h-1zM544 510h1v1h-1zM544 511h1v1h-1zM544 512h1v1h-1zM544 517h1v1h-1zM545 28h1v1h-1zM545 34h1v1h-1zM545 40h1v1h-1zM545 41h1v1h-1zM545 42h1v1h-1zM545 100h1v1h-1zM545 109h1v1h-1zM545 110h1v1h-1zM545 111h1v1h-1zM545 112h1v1h-1zM545 114h1v1h-1zM545 116h1v1h-1zM545 485h1v1h-1zM545 487h1v1h-1zM545 493h1v1h-1zM545 494h1v1h-1zM545 498h1v1h-1zM545 504h1v1h-1zM545 505h1v1h-1zM545 507h1v1h-1zM545 508h1v1h-1zM545 510h1v1h-1zM545 511h1v1h-1zM545 513h1v1h-1zM545 521h1v1h-1zM546 30h1v1h-1zM546 33h1v1h-1zM546 34h1v1h-1zM546 37h1v1h-1zM546 38h1v1h-1zM546 41h1v1h-1zM546 95h1v1h-1zM546 97h1v1h-1zM546 100h1v1h-1zM546 101h1v1h-1zM546 102h1v1h-1zM546 103h1v1h-1zM546 104h1v1h-1zM546 107h1v1h-1zM546 109h1v1h-1zM546 112h1v1h-1zM546 113h1v1h-1zM546 116h1v1h-1zM546 119h1v1h-1zM546 120h1v1h-1zM546 494h1v1h-1zM546 496h1v1h-1zM546 506h1v1h-1zM546 512h1v1h-1zM546 513h1v1h-1zM547 27h1v1h-1zM547 31h1v1h-1zM547 32h1v1h-1zM547 35h1v1h-1zM547 37h1v1h-1zM547 93h1v1h-1zM547 99h1v1h-1zM547 100h1v1h-1zM547 101h1v1h-1zM547 105h1v1h-1zM547 111h1v1h-1zM547 112h1v1h-1zM547 113h1v1h-1zM547 115h1v1h-1zM547 117h1v1h-1zM547 122h1v1h-1zM547 490h1v1h-1zM547 494h1v1h-1zM547 496h1v1h-1zM547 497h1v1h-1zM547 499h1v1h-1zM547 501h1v1h-1zM547 506h1v1h-1zM547 507h1v1h-1zM547 513h1v1h-1zM547 515h1v1h-1zM547 516h1v1h-1zM547 519h1v1h-1zM548 26h1v1h-1zM548 33h1v1h-1zM548 34h1v1h-1zM548 36h1v1h-1zM548 39h1v1h-1zM548 94h1v1h-1zM548 95h1v1h-1zM548 99h1v1h-1zM548 101h1v1h-1zM548 108h1v1h-1zM548 111h1v1h-1zM548 112h1v1h-1zM548 113h1v1h-1zM548 116h1v1h-1zM548 117h1v1h-1zM548 118h1v1h-1zM548 119h1v1h-1zM548 121h1v1h-1zM548 122h1v1h-1zM548 495h1v1h-1zM548 497h1v1h-1zM548 499h1v1h-1zM548 501h1v1h-1zM548 503h1v1h-1zM548 504h1v1h-1zM548 505h1v1h-1zM548 509h1v1h-1zM548 510h1v1h-1zM548 513h1v1h-1zM548 515h1v1h-1zM548 516h1v1h-1zM548 517h1v1h-1zM548 518h1v1h-1zM548 525h1v1h-1zM549 30h1v1h-1zM549 35h1v1h-1zM549 36h1v1h-1zM549 38h1v1h-1zM549 95h1v1h-1zM549 96h1v1h-1zM549 97h1v1h-1zM549 103h1v1h-1zM549 105h1v1h-1zM549 106h1v1h-1zM549 107h1v1h-1zM549 108h1v1h-1zM549 109h1v1h-1zM549 111h1v1h-1zM549 112h1v1h-1zM549 113h1v1h-1zM549 114h1v1h-1zM549 115h1v1h-1zM549 117h1v1h-1zM549 119h1v1h-1zM549 120h1v1h-1zM549 497h1v1h-1zM549 506h1v1h-1zM549 507h1v1h-1zM549 511h1v1h-1zM549 512h1v1h-1zM549 514h1v1h-1zM549 515h1v1h-1zM549 516h1v1h-1zM549 517h1v1h-1zM549 519h1v1h-1zM549 524h1v1h-1zM550 24h1v1h-1zM550 26h1v1h-1zM550 27h1v1h-1zM550 29h1v1h-1zM550 33h1v1h-1zM550 96h1v1h-1zM550 97h1v1h-1zM550 98h1v1h-1zM550 99h1v1h-1zM550 101h1v1h-1zM550 106h1v1h-1zM550 107h1v1h-1zM550 108h1v1h-1zM550 109h1v1h-1zM550 110h1v1h-1zM550 111h1v1h-1zM550 112h1v1h-1zM550 114h1v1h-1zM550 116h1v1h-1zM550 118h1v1h-1zM550 120h1v1h-1zM550 122h1v1h-1zM550 500h1v1h-1zM550 502h1v1h-1zM550 503h1v1h-1zM550 505h1v1h-1zM550 506h1v1h-1zM550 507h1v1h-1zM550 508h1v1h-1zM550 513h1v1h-1zM550 514h1v1h-1zM550 515h1v1h-1zM550 518h1v1h-1zM551 26h1v1h-1zM551 33h1v1h-1zM551 92h1v1h-1zM551 93h1v1h-1zM551 97h1v1h-1zM551 99h1v1h-1zM551 101h1v1h-1zM551 102h1v1h-1zM551 103h1v1h-1zM551 105h1v1h-1zM551 107h1v1h-1zM551 108h1v1h-1zM551 109h1v1h-1zM551 111h1v1h-1zM551 113h1v1h-1zM551 114h1v1h-1zM551 116h1v1h-1zM551 118h1v1h-1zM551 123h1v1h-1zM551 500h1v1h-1zM551 502h1v1h-1zM551 503h1v1h-1zM551 506h1v1h-1zM551 507h1v1h-1zM551 509h1v1h-1zM551 513h1v1h-1zM551 516h1v1h-1zM552 24h1v1h-1zM552 25h1v1h-1zM552 90h1v1h-1zM552 94h1v1h-1zM552 95h1v1h-1zM552 96h1v1h-1zM552 97h1v1h-1zM552 98h1v1h-1zM552 99h1v1h-1zM552 101h1v1h-1zM552 103h1v1h-1zM552 104h1v1h-1zM552 105h1v1h-1zM552 106h1v1h-1zM552 108h1v1h-1zM552 109h1v1h-1zM552 110h1v1h-1zM552 111h1v1h-1zM552 112h1v1h-1zM552 113h1v1h-1zM552 114h1v1h-1zM552 115h1v1h-1zM552 116h1v1h-1zM552 496h1v1h-1zM552 499h1v1h-1zM552 501h1v1h-1zM552 504h1v1h-1zM552 508h1v1h-1zM552 511h1v1h-1zM552 516h1v1h-1zM552 517h1v1h-1zM552 518h1v1h-1zM552 519h1v1h-1zM552 520h1v1h-1zM553 24h1v1h-1zM553 25h1v1h-1zM553 26h1v1h-1zM553 31h1v1h-1zM553 90h1v1h-1zM553 93h1v1h-1zM553 95h1v1h-1zM553 97h1v1h-1zM553 98h1v1h-1zM553 99h1v1h-1zM553 103h1v1h-1zM553 104h1v1h-1zM553 105h1v1h-1zM553 106h1v1h-1zM553 107h1v1h-1zM553 108h1v1h-1zM553 109h1v1h-1zM553 110h1v1h-1zM553 111h1v1h-1zM553 112h1v1h-1zM553 113h1v1h-1zM553 114h1v1h-1zM553 115h1v1h-1zM553 116h1v1h-1zM553 117h1v1h-1zM553 118h1v1h-1zM553 120h1v1h-1zM553 121h1v1h-1zM553 501h1v1h-1zM553 502h1v1h-1zM553 504h1v1h-1zM553 506h1v1h-1zM553 509h1v1h-1zM553 511h1v1h-1zM553 513h1v1h-1zM553 514h1v1h-1zM553 515h1v1h-1zM553 517h1v1h-1zM553 519h1v1h-1zM554 25h1v1h-1zM554 27h1v1h-1zM554 89h1v1h-1zM554 90h1v1h-1zM554 95h1v1h-1zM554 97h1v1h-1zM554 98h1v1h-1zM554 99h1v1h-1zM554 100h1v1h-1zM554 104h1v1h-1zM554 107h1v1h-1zM554 108h1v1h-1zM554 109h1v1h-1zM554 110h1v1h-1zM554 111h1v1h-1zM554 112h1v1h-1zM554 114h1v1h-1zM554 115h1v1h-1zM554 117h1v1h-1zM554 118h1v1h-1zM554 120h1v1h-1zM554 121h1v1h-1zM554 500h1v1h-1zM554 503h1v1h-1zM554 505h1v1h-1zM554 506h1v1h-1zM554 509h1v1h-1zM554 510h1v1h-1zM554 511h1v1h-1zM554 515h1v1h-1zM554 517h1v1h-1zM554 518h1v1h-1zM554 519h1v1h-1zM554 520h1v1h-1zM555 91h1v1h-1zM555 94h1v1h-1zM555 97h1v1h-1zM555 98h1v1h-1zM555 100h1v1h-1zM555 101h1v1h-1zM555 103h1v1h-1zM555 104h1v1h-1zM555 106h1v1h-1zM555 107h1v1h-1zM555 108h1v1h-1zM555 109h1v1h-1zM555 110h1v1h-1zM555 111h1v1h-1zM555 112h1v1h-1zM555 113h1v1h-1zM555 114h1v1h-1zM555 115h1v1h-1zM555 116h1v1h-1zM555 117h1v1h-1zM555 118h1v1h-1zM555 119h1v1h-1zM555 123h1v1h-1zM555 499h1v1h-1zM555 502h1v1h-1zM555 506h1v1h-1zM555 510h1v1h-1zM555 512h1v1h-1zM555 515h1v1h-1zM555 520h1v1h-1zM556 87h1v1h-1zM556 91h1v1h-1zM556 92h1v1h-1zM556 93h1v1h-1zM556 94h1v1h-1zM556 95h1v1h-1zM556 96h1v1h-1zM556 97h1v1h-1zM556 98h1v1h-1zM556 99h1v1h-1zM556 100h1v1h-1zM556 101h1v1h-1zM556 102h1v1h-1zM556 103h1v1h-1zM556 104h1v1h-1zM556 105h1v1h-1zM556 107h1v1h-1zM556 108h1v1h-1zM556 109h1v1h-1zM556 111h1v1h-1zM556 112h1v1h-1zM556 114h1v1h-1zM556 116h1v1h-1zM556 117h1v1h-1zM556 118h1v1h-1zM556 119h1v1h-1zM556 120h1v1h-1zM556 121h1v1h-1zM556 503h1v1h-1zM556 505h1v1h-1zM556 506h1v1h-1zM556 507h1v1h-1zM556 508h1v1h-1zM556 510h1v1h-1zM556 511h1v1h-1zM556 513h1v1h-1zM556 517h1v1h-1zM557 86h1v1h-1zM557 91h1v1h-1zM557 95h1v1h-1zM557 96h1v1h-1zM557 98h1v1h-1zM557 99h1v1h-1zM557 100h1v1h-1zM557 101h1v1h-1zM557 104h1v1h-1zM557 105h1v1h-1zM557 107h1v1h-1zM557 108h1v1h-1zM557 109h1v1h-1zM557 110h1v1h-1zM557 111h1v1h-1zM557 112h1v1h-1zM557 113h1v1h-1zM557 114h1v1h-1zM557 116h1v1h-1zM557 117h1v1h-1zM557 118h1v1h-1zM557 119h1v1h-1zM557 120h1v1h-1zM557 122h1v1h-1zM557 503h1v1h-1zM557 505h1v1h-1zM557 509h1v1h-1zM557 514h1v1h-1zM557 515h1v1h-1zM557 517h1v1h-1zM557 520h1v1h-1zM557 521h1v1h-1zM558 89h1v1h-1zM558 91h1v1h-1zM558 92h1v1h-1zM558 94h1v1h-1zM558 97h1v1h-1zM558 100h1v1h-1zM558 101h1v1h-1zM558 102h1v1h-1zM558 103h1v1h-1zM558 105h1v1h-1zM558 106h1v1h-1zM558 107h1v1h-1zM558 109h1v1h-1zM558 110h1v1h-1zM558 111h1v1h-1zM558 113h1v1h-1zM558 115h1v1h-1zM558 116h1v1h-1zM558 117h1v1h-1zM558 122h1v1h-1zM558 507h1v1h-1zM558 509h1v1h-1zM558 511h1v1h-1zM558 512h1v1h-1zM558 514h1v1h-1zM558 517h1v1h-1zM558 519h1v1h-1zM558 522h1v1h-1zM559 88h1v1h-1zM559 89h1v1h-1zM559 91h1v1h-1zM559 92h1v1h-1zM559 95h1v1h-1zM559 98h1v1h-1zM559 101h1v1h-1zM559 103h1v1h-1zM559 104h1v1h-1zM559 105h1v1h-1zM559 106h1v1h-1zM559 107h1v1h-1zM559 109h1v1h-1zM559 110h1v1h-1zM559 111h1v1h-1zM559 112h1v1h-1zM559 113h1v1h-1zM559 114h1v1h-1zM559 116h1v1h-1zM559 117h1v1h-1zM559 118h1v1h-1zM559 120h1v1h-1zM559 505h1v1h-1zM559 508h1v1h-1zM559 509h1v1h-1zM559 512h1v1h-1zM559 514h1v1h-1zM559 516h1v1h-1zM559 519h1v1h-1zM559 520h1v1h-1zM560 89h1v1h-1zM560 91h1v1h-1zM560 92h1v1h-1zM560 94h1v1h-1zM560 95h1v1h-1zM560 97h1v1h-1zM560 99h1v1h-1zM560 100h1v1h-1zM560 101h1v1h-1zM560 102h1v1h-1zM560 103h1v1h-1zM560 104h1v1h-1zM560 105h1v1h-1zM560 107h1v1h-1zM560 110h1v1h-1zM560 111h1v1h-1zM560 112h1v1h-1zM560 113h1v1h-1zM560 114h1v1h-1zM560 115h1v1h-1zM560 120h1v1h-1zM560 123h1v1h-1zM560 125h1v1h-1zM560 509h1v1h-1zM560 511h1v1h-1zM560 513h1v1h-1zM560 515h1v1h-1zM560 516h1v1h-1zM560 517h1v1h-1zM560 518h1v1h-1zM561 88h1v1h-1zM561 89h1v1h-1zM561 90h1v1h-1zM561 91h1v1h-1zM561 92h1v1h-1zM561 93h1v1h-1zM561 94h1v1h-1zM561 95h1v1h-1zM561 97h1v1h-1zM561 99h1v1h-1zM561 100h1v1h-1zM561 101h1v1h-1zM561 102h1v1h-1zM561 103h1v1h-1zM561 104h1v1h-1zM561 106h1v1h-1zM561 108h1v1h-1zM561 110h1v1h-1zM561 112h1v1h-1zM561 114h1v1h-1zM561 115h1v1h-1zM561 116h1v1h-1zM561 118h1v1h-1zM561 119h1v1h-1zM561 121h1v1h-1zM561 122h1v1h-1zM561 124h1v1h-1zM561 510h1v1h-1zM561 517h1v1h-1zM561 518h1v1h-1zM561 519h1v1h-1zM562 86h1v1h-1zM562 88h1v1h-1zM562 89h1v1h-1zM562 90h1v1h-1zM562 92h1v1h-1zM562 94h1v1h-1zM562 96h1v1h-1zM562 97h1v1h-1zM562 99h1v1h-1zM562 100h1v1h-1zM562 101h1v1h-1zM562 102h1v1h-1zM562 103h1v1h-1zM562 107h1v1h-1zM562 108h1v1h-1zM562 110h1v1h-1zM562 111h1v1h-1zM562 112h1v1h-1zM562 113h1v1h-1zM562 114h1v1h-1zM562 115h1v1h-1zM562 116h1v1h-1zM562 120h1v1h-1zM562 124h1v1h-1zM562 506h1v1h-1zM562 509h1v1h-1zM562 512h1v1h-1zM562 514h1v1h-1zM562 517h1v1h-1zM563 89h1v1h-1zM563 90h1v1h-1zM563 91h1v1h-1zM563 92h1v1h-1zM563 94h1v1h-1zM563 95h1v1h-1zM563 96h1v1h-1zM563 97h1v1h-1zM563 98h1v1h-1zM563 100h1v1h-1zM563 102h1v1h-1zM563 103h1v1h-1zM563 104h1v1h-1zM563 106h1v1h-1zM563 110h1v1h-1zM563 113h1v1h-1zM563 114h1v1h-1zM563 115h1v1h-1zM563 116h1v1h-1zM563 118h1v1h-1zM563 119h1v1h-1zM563 120h1v1h-1zM563 121h1v1h-1zM563 125h1v1h-1zM563 508h1v1h-1zM563 510h1v1h-1zM563 514h1v1h-1zM564 86h1v1h-1zM564 89h1v1h-1zM564 90h1v1h-1zM564 93h1v1h-1zM564 95h1v1h-1zM564 96h1v1h-1zM564 98h1v1h-1zM564 99h1v1h-1zM564 103h1v1h-1zM564 107h1v1h-1zM564 108h1v1h-1zM564 113h1v1h-1zM564 114h1v1h-1zM564 116h1v1h-1zM564 117h1v1h-1zM564 121h1v1h-1zM564 122h1v1h-1zM564 123h1v1h-1zM564 124h1v1h-1zM564 125h1v1h-1zM564 509h1v1h-1zM564 512h1v1h-1zM564 513h1v1h-1zM564 516h1v1h-1zM565 87h1v1h-1zM565 90h1v1h-1zM565 91h1v1h-1zM565 92h1v1h-1zM565 93h1v1h-1zM565 94h1v1h-1zM565 95h1v1h-1zM565 96h1v1h-1zM565 97h1v1h-1zM565 100h1v1h-1zM565 101h1v1h-1zM565 102h1v1h-1zM565 104h1v1h-1zM565 109h1v1h-1zM565 110h1v1h-1zM565 111h1v1h-1zM565 112h1v1h-1zM565 114h1v1h-1zM565 115h1v1h-1zM565 116h1v1h-1zM565 117h1v1h-1zM565 121h1v1h-1zM565 122h1v1h-1zM565 123h1v1h-1zM565 508h1v1h-1zM565 509h1v1h-1zM565 521h1v1h-1zM566 88h1v1h-1zM566 89h1v1h-1zM566 90h1v1h-1zM566 91h1v1h-1zM566 92h1v1h-1zM566 93h1v1h-1zM566 94h1v1h-1zM566 95h1v1h-1zM566 96h1v1h-1zM566 97h1v1h-1zM566 98h1v1h-1zM566 99h1v1h-1zM566 100h1v1h-1zM566 102h1v1h-1zM566 110h1v1h-1zM566 111h1v1h-1zM566 113h1v1h-1zM566 114h1v1h-1zM566 116h1v1h-1zM566 117h1v1h-1zM566 120h1v1h-1zM566 121h1v1h-1zM566 122h1v1h-1zM566 123h1v1h-1zM566 508h1v1h-1zM566 516h1v1h-1zM567 80h1v1h-1zM567 81h1v1h-1zM567 85h1v1h-1zM567 87h1v1h-1zM567 88h1v1h-1zM567 89h1v1h-1zM567 90h1v1h-1zM567 91h1v1h-1zM567 92h1v1h-1zM567 94h1v1h-1zM567 95h1v1h-1zM567 97h1v1h-1zM567 98h1v1h-1zM567 100h1v1h-1zM567 101h1v1h-1zM567 102h1v1h-1zM567 103h1v1h-1zM567 104h1v1h-1zM567 105h1v1h-1zM567 110h1v1h-1zM567 112h1v1h-1zM567 113h1v1h-1zM567 115h1v1h-1zM567 117h1v1h-1zM567 119h1v1h-1zM567 121h1v1h-1zM567 124h1v1h-1zM568 76h1v1h-1zM568 84h1v1h-1zM568 88h1v1h-1zM568 89h1v1h-1zM568 90h1v1h-1zM568 91h1v1h-1zM568 92h1v1h-1zM568 93h1v1h-1zM568 94h1v1h-1zM568 96h1v1h-1zM568 97h1v1h-1zM568 98h1v1h-1zM568 99h1v1h-1zM568 100h1v1h-1zM568 101h1v1h-1zM568 103h1v1h-1zM568 106h1v1h-1zM568 108h1v1h-1zM568 109h1v1h-1zM568 110h1v1h-1zM568 112h1v1h-1zM568 113h1v1h-1zM568 114h1v1h-1zM568 115h1v1h-1zM568 116h1v1h-1zM568 118h1v1h-1zM568 119h1v1h-1zM568 120h1v1h-1zM568 122h1v1h-1zM569 73h1v1h-1zM569 82h1v1h-1zM569 85h1v1h-1zM569 86h1v1h-1zM569 88h1v1h-1zM569 89h1v1h-1zM569 90h1v1h-1zM569 91h1v1h-1zM569 92h1v1h-1zM569 94h1v1h-1zM569 95h1v1h-1zM569 97h1v1h-1zM569 98h1v1h-1zM569 99h1v1h-1zM569 100h1v1h-1zM569 101h1v1h-1zM569 102h1v1h-1zM569 104h1v1h-1zM569 105h1v1h-1zM569 107h1v1h-1zM569 108h1v1h-1zM569 109h1v1h-1zM569 110h1v1h-1zM569 112h1v1h-1zM569 114h1v1h-1zM569 115h1v1h-1zM569 116h1v1h-1zM569 117h1v1h-1zM569 119h1v1h-1zM569 120h1v1h-1zM569 121h1v1h-1zM569 122h1v1h-1zM569 123h1v1h-1zM570 76h1v1h-1zM570 77h1v1h-1zM570 84h1v1h-1zM570 88h1v1h-1zM570 89h1v1h-1zM570 90h1v1h-1zM570 93h1v1h-1zM570 94h1v1h-1zM570 95h1v1h-1zM570 96h1v1h-1zM570 97h1v1h-1zM570 98h1v1h-1zM570 100h1v1h-1zM570 102h1v1h-1zM570 103h1v1h-1zM570 104h1v1h-1zM570 108h1v1h-1zM570 109h1v1h-1zM570 110h1v1h-1zM570 111h1v1h-1zM570 114h1v1h-1zM570 115h1v1h-1zM570 116h1v1h-1zM570 118h1v1h-1zM570 119h1v1h-1zM570 120h1v1h-1zM570 121h1v1h-1zM570 123h1v1h-1zM570 124h1v1h-1zM571 84h1v1h-1zM571 87h1v1h-1zM571 88h1v1h-1zM571 89h1v1h-1zM571 90h1v1h-1zM571 93h1v1h-1zM571 94h1v1h-1zM571 95h1v1h-1zM571 96h1v1h-1zM571 97h1v1h-1zM571 98h1v1h-1zM571 99h1v1h-1zM571 100h1v1h-1zM571 101h1v1h-1zM571 104h1v1h-1zM571 105h1v1h-1zM571 110h1v1h-1zM571 111h1v1h-1zM571 112h1v1h-1zM571 113h1v1h-1zM571 114h1v1h-1zM571 120h1v1h-1zM571 121h1v1h-1zM572 76h1v1h-1zM572 79h1v1h-1zM572 80h1v1h-1zM572 86h1v1h-1zM572 87h1v1h-1zM572 89h1v1h-1zM572 90h1v1h-1zM572 91h1v1h-1zM572 92h1v1h-1zM572 93h1v1h-1zM572 94h1v1h-1zM572 95h1v1h-1zM572 97h1v1h-1zM572 98h1v1h-1zM572 100h1v1h-1zM572 101h1v1h-1zM572 102h1v1h-1zM572 103h1v1h-1zM572 109h1v1h-1zM572 111h1v1h-1zM572 112h1v1h-1zM572 114h1v1h-1zM572 115h1v1h-1zM572 117h1v1h-1zM572 118h1v1h-1zM572 119h1v1h-1zM572 120h1v1h-1zM572 121h1v1h-1zM572 123h1v1h-1zM573 73h1v1h-1zM573 78h1v1h-1zM573 80h1v1h-1zM573 89h1v1h-1zM573 91h1v1h-1zM573 92h1v1h-1zM573 93h1v1h-1zM573 94h1v1h-1zM573 95h1v1h-1zM573 96h1v1h-1zM573 97h1v1h-1zM573 98h1v1h-1zM573 99h1v1h-1zM573 100h1v1h-1zM573 101h1v1h-1zM573 103h1v1h-1zM573 107h1v1h-1zM573 108h1v1h-1zM573 110h1v1h-1zM573 111h1v1h-1zM573 112h1v1h-1zM573 113h1v1h-1zM573 114h1v1h-1zM573 116h1v1h-1zM573 117h1v1h-1zM573 119h1v1h-1zM574 69h1v1h-1zM574 70h1v1h-1zM574 71h1v1h-1zM574 73h1v1h-1zM574 75h1v1h-1zM574 81h1v1h-1zM574 82h1v1h-1zM574 84h1v1h-1zM574 90h1v1h-1zM574 92h1v1h-1zM574 93h1v1h-1zM574 94h1v1h-1zM574 95h1v1h-1zM574 97h1v1h-1zM574 98h1v1h-1zM574 100h1v1h-1zM574 101h1v1h-1zM574 107h1v1h-1zM574 108h1v1h-1zM574 109h1v1h-1zM574 110h1v1h-1zM574 111h1v1h-1zM574 112h1v1h-1zM574 115h1v1h-1zM574 117h1v1h-1zM574 119h1v1h-1zM574 120h1v1h-1zM574 121h1v1h-1zM574 122h1v1h-1zM575 67h1v1h-1zM575 70h1v1h-1zM575 71h1v1h-1zM575 75h1v1h-1zM575 76h1v1h-1zM575 79h1v1h-1zM575 83h1v1h-1zM575 90h1v1h-1zM575 92h1v1h-1zM575 95h1v1h-1zM575 96h1v1h-1zM575 97h1v1h-1zM575 100h1v1h-1zM575 101h1v1h-1zM575 105h1v1h-1zM575 107h1v1h-1zM575 112h1v1h-1zM575 115h1v1h-1zM575 117h1v1h-1zM575 118h1v1h-1zM575 120h1v1h-1zM575 124h1v1h-1zM576 65h1v1h-1zM576 66h1v1h-1zM576 72h1v1h-1zM576 78h1v1h-1zM576 79h1v1h-1zM576 84h1v1h-1zM576 86h1v1h-1zM576 87h1v1h-1zM576 88h1v1h-1zM576 89h1v1h-1zM576 92h1v1h-1zM576 93h1v1h-1zM576 94h1v1h-1zM576 96h1v1h-1zM576 97h1v1h-1zM576 99h1v1h-1zM576 101h1v1h-1zM576 103h1v1h-1zM576 108h1v1h-1zM576 109h1v1h-1zM576 115h1v1h-1zM576 118h1v1h-1zM576 120h1v1h-1zM576 124h1v1h-1zM576 125h1v1h-1zM577 59h1v1h-1zM577 65h1v1h-1zM577 69h1v1h-1zM577 70h1v1h-1zM577 89h1v1h-1zM577 90h1v1h-1zM577 94h1v1h-1zM577 95h1v1h-1zM577 96h1v1h-1zM577 97h1v1h-1zM577 98h1v1h-1zM577 100h1v1h-1zM577 103h1v1h-1zM577 106h1v1h-1zM577 107h1v1h-1zM577 109h1v1h-1zM577 110h1v1h-1zM577 112h1v1h-1zM577 115h1v1h-1zM577 116h1v1h-1zM577 119h1v1h-1zM577 120h1v1h-1zM578 65h1v1h-1zM578 70h1v1h-1zM578 72h1v1h-1zM578 75h1v1h-1zM578 79h1v1h-1zM578 81h1v1h-1zM578 84h1v1h-1zM578 87h1v1h-1zM578 88h1v1h-1zM578 89h1v1h-1zM578 92h1v1h-1zM578 94h1v1h-1zM578 95h1v1h-1zM578 96h1v1h-1zM578 97h1v1h-1zM578 98h1v1h-1zM578 100h1v1h-1zM578 101h1v1h-1zM578 103h1v1h-1zM578 104h1v1h-1zM578 106h1v1h-1zM578 107h1v1h-1zM578 109h1v1h-1zM578 110h1v1h-1zM578 111h1v1h-1zM578 112h1v1h-1zM578 115h1v1h-1zM578 116h1v1h-1zM578 117h1v1h-1zM578 118h1v1h-1zM578 119h1v1h-1zM578 120h1v1h-1zM578 121h1v1h-1zM578 124h1v1h-1zM579 57h1v1h-1zM579 66h1v1h-1zM579 67h1v1h-1zM579 70h1v1h-1zM579 73h1v1h-1zM579 82h1v1h-1zM579 84h1v1h-1zM579 85h1v1h-1zM579 86h1v1h-1zM579 88h1v1h-1zM579 89h1v1h-1zM579 90h1v1h-1zM579 91h1v1h-1zM579 93h1v1h-1zM579 94h1v1h-1zM579 95h1v1h-1zM579 97h1v1h-1zM579 98h1v1h-1zM579 99h1v1h-1zM579 100h1v1h-1zM579 101h1v1h-1zM579 102h1v1h-1zM579 103h1v1h-1zM579 104h1v1h-1zM579 108h1v1h-1zM579 109h1v1h-1zM579 110h1v1h-1zM579 111h1v1h-1zM579 112h1v1h-1zM579 113h1v1h-1zM579 115h1v1h-1zM579 116h1v1h-1zM579 119h1v1h-1zM579 120h1v1h-1zM579 122h1v1h-1zM580 57h1v1h-1zM580 60h1v1h-1zM580 66h1v1h-1zM580 67h1v1h-1zM580 69h1v1h-1zM580 71h1v1h-1zM580 78h1v1h-1zM580 79h1v1h-1zM580 80h1v1h-1zM580 85h1v1h-1zM580 88h1v1h-1zM580 90h1v1h-1zM580 91h1v1h-1zM580 93h1v1h-1zM580 94h1v1h-1zM580 95h1v1h-1zM580 98h1v1h-1zM580 99h1v1h-1zM580 100h1v1h-1zM580 101h1v1h-1zM580 102h1v1h-1zM580 107h1v1h-1zM580 108h1v1h-1zM580 110h1v1h-1zM580 111h1v1h-1zM580 112h1v1h-1zM580 114h1v1h-1zM580 115h1v1h-1zM580 119h1v1h-1zM580 121h1v1h-1zM580 122h1v1h-1zM580 125h1v1h-1zM581 49h1v1h-1zM581 59h1v1h-1zM581 66h1v1h-1zM581 73h1v1h-1zM581 74h1v1h-1zM581 87h1v1h-1zM581 88h1v1h-1zM581 89h1v1h-1zM581 91h1v1h-1zM581 92h1v1h-1zM581 95h1v1h-1zM581 97h1v1h-1zM581 98h1v1h-1zM581 100h1v1h-1zM581 101h1v1h-1zM581 102h1v1h-1zM581 106h1v1h-1zM581 108h1v1h-1zM581 109h1v1h-1zM581 110h1v1h-1zM581 111h1v1h-1zM581 113h1v1h-1zM581 116h1v1h-1zM581 117h1v1h-1zM581 119h1v1h-1zM581 120h1v1h-1zM581 121h1v1h-1zM582 53h1v1h-1zM582 56h1v1h-1zM582 60h1v1h-1zM582 62h1v1h-1zM582 63h1v1h-1zM582 65h1v1h-1zM582 74h1v1h-1zM582 81h1v1h-1zM582 84h1v1h-1zM582 85h1v1h-1zM582 86h1v1h-1zM582 87h1v1h-1zM582 88h1v1h-1zM582 89h1v1h-1zM582 90h1v1h-1zM582 92h1v1h-1zM582 93h1v1h-1zM582 94h1v1h-1zM582 95h1v1h-1zM582 96h1v1h-1zM582 99h1v1h-1zM582 100h1v1h-1zM582 102h1v1h-1zM582 103h1v1h-1zM582 104h1v1h-1zM582 105h1v1h-1zM582 106h1v1h-1zM582 110h1v1h-1zM582 114h1v1h-1zM582 117h1v1h-1zM582 119h1v1h-1zM582 121h1v1h-1zM582 124h1v1h-1zM583 50h1v1h-1zM583 52h1v1h-1zM583 66h1v1h-1zM583 67h1v1h-1zM583 74h1v1h-1zM583 78h1v1h-1zM583 89h1v1h-1zM583 90h1v1h-1zM583 91h1v1h-1zM583 92h1v1h-1zM583 94h1v1h-1zM583 96h1v1h-1zM583 98h1v1h-1zM583 102h1v1h-1zM583 103h1v1h-1zM583 106h1v1h-1zM583 107h1v1h-1zM583 108h1v1h-1zM583 109h1v1h-1zM583 110h1v1h-1zM583 112h1v1h-1zM583 113h1v1h-1zM583 114h1v1h-1zM583 115h1v1h-1zM583 116h1v1h-1zM583 118h1v1h-1zM583 119h1v1h-1zM583 120h1v1h-1zM584 52h1v1h-1zM584 53h1v1h-1zM584 64h1v1h-1zM584 65h1v1h-1zM584 66h1v1h-1zM584 67h1v1h-1zM584 68h1v1h-1zM584 71h1v1h-1zM584 73h1v1h-1zM584 74h1v1h-1zM584 77h1v1h-1zM584 81h1v1h-1zM584 88h1v1h-1zM584 89h1v1h-1zM584 90h1v1h-1zM584 91h1v1h-1zM584 92h1v1h-1zM584 93h1v1h-1zM584 95h1v1h-1zM584 96h1v1h-1zM584 97h1v1h-1zM584 98h1v1h-1zM584 99h1v1h-1zM584 100h1v1h-1zM584 103h1v1h-1zM584 104h1v1h-1zM584 105h1v1h-1zM584 107h1v1h-1zM584 110h1v1h-1zM584 111h1v1h-1zM584 113h1v1h-1zM584 114h1v1h-1zM584 115h1v1h-1zM584 119h1v1h-1zM584 121h1v1h-1zM585 63h1v1h-1zM585 69h1v1h-1zM585 70h1v1h-1zM585 71h1v1h-1zM585 74h1v1h-1zM585 75h1v1h-1zM585 80h1v1h-1zM585 83h1v1h-1zM585 89h1v1h-1zM585 90h1v1h-1zM585 91h1v1h-1zM585 92h1v1h-1zM585 93h1v1h-1zM585 94h1v1h-1zM585 98h1v1h-1zM585 103h1v1h-1zM585 104h1v1h-1zM585 111h1v1h-1zM585 113h1v1h-1zM585 114h1v1h-1zM585 115h1v1h-1zM585 116h1v1h-1zM585 117h1v1h-1zM585 120h1v1h-1zM585 121h1v1h-1zM586 45h1v1h-1zM586 50h1v1h-1zM586 53h1v1h-1zM586 54h1v1h-1zM586 55h1v1h-1zM586 56h1v1h-1zM586 57h1v1h-1zM586 58h1v1h-1zM586 59h1v1h-1zM586 62h1v1h-1zM586 65h1v1h-1zM586 66h1v1h-1zM586 77h1v1h-1zM586 86h1v1h-1zM586 87h1v1h-1zM586 88h1v1h-1zM586 89h1v1h-1zM586 90h1v1h-1zM586 91h1v1h-1zM586 93h1v1h-1zM586 94h1v1h-1zM586 96h1v1h-1zM586 99h1v1h-1zM586 100h1v1h-1zM586 104h1v1h-1zM586 105h1v1h-1zM586 106h1v1h-1zM586 110h1v1h-1zM586 114h1v1h-1zM586 115h1v1h-1zM586 116h1v1h-1zM586 118h1v1h-1zM586 120h1v1h-1zM587 47h1v1h-1zM587 57h1v1h-1zM587 58h1v1h-1zM587 59h1v1h-1zM587 60h1v1h-1zM587 62h1v1h-1zM587 64h1v1h-1zM587 67h1v1h-1zM587 72h1v1h-1zM587 76h1v1h-1zM587 82h1v1h-1zM587 83h1v1h-1zM587 84h1v1h-1zM587 86h1v1h-1zM587 87h1v1h-1zM587 88h1v1h-1zM587 90h1v1h-1zM587 91h1v1h-1zM587 92h1v1h-1zM587 93h1v1h-1zM587 94h1v1h-1zM587 97h1v1h-1zM587 99h1v1h-1zM587 100h1v1h-1zM587 101h1v1h-1zM587 103h1v1h-1zM587 105h1v1h-1zM587 106h1v1h-1zM587 108h1v1h-1zM587 109h1v1h-1zM587 113h1v1h-1zM587 114h1v1h-1zM587 115h1v1h-1zM587 116h1v1h-1zM587 117h1v1h-1zM587 118h1v1h-1zM588 63h1v1h-1zM588 68h1v1h-1zM588 71h1v1h-1zM588 83h1v1h-1zM588 84h1v1h-1zM588 86h1v1h-1zM588 90h1v1h-1zM588 92h1v1h-1zM588 93h1v1h-1zM588 95h1v1h-1zM588 97h1v1h-1zM588 98h1v1h-1zM588 100h1v1h-1zM588 101h1v1h-1zM588 102h1v1h-1zM588 104h1v1h-1zM588 106h1v1h-1zM588 107h1v1h-1zM588 109h1v1h-1zM588 110h1v1h-1zM588 112h1v1h-1zM588 113h1v1h-1zM588 114h1v1h-1zM588 115h1v1h-1zM588 118h1v1h-1zM589 39h1v1h-1zM589 41h1v1h-1zM589 54h1v1h-1zM589 55h1v1h-1zM589 56h1v1h-1zM589 69h1v1h-1zM589 72h1v1h-1zM589 74h1v1h-1zM589 75h1v1h-1zM589 79h1v1h-1zM589 81h1v1h-1zM589 83h1v1h-1zM589 84h1v1h-1zM589 85h1v1h-1zM589 86h1v1h-1zM589 88h1v1h-1zM589 89h1v1h-1zM589 90h1v1h-1zM589 91h1v1h-1zM589 93h1v1h-1zM589 94h1v1h-1zM589 95h1v1h-1zM589 96h1v1h-1zM589 97h1v1h-1zM589 98h1v1h-1zM589 99h1v1h-1zM589 101h1v1h-1zM589 102h1v1h-1zM589 104h1v1h-1zM589 105h1v1h-1zM589 110h1v1h-1zM589 111h1v1h-1zM589 112h1v1h-1zM589 114h1v1h-1zM589 115h1v1h-1zM589 116h1v1h-1zM589 117h1v1h-1zM589 118h1v1h-1zM590 41h1v1h-1zM590 45h1v1h-1zM590 57h1v1h-1zM590 58h1v1h-1zM590 66h1v1h-1zM590 74h1v1h-1zM590 75h1v1h-1zM590 78h1v1h-1zM590 81h1v1h-1zM590 83h1v1h-1zM590 84h1v1h-1zM590 85h1v1h-1zM590 86h1v1h-1zM590 87h1v1h-1zM590 88h1v1h-1zM590 89h1v1h-1zM590 90h1v1h-1zM590 91h1v1h-1zM590 92h1v1h-1zM590 93h1v1h-1zM590 94h1v1h-1zM590 95h1v1h-1zM590 96h1v1h-1zM590 97h1v1h-1zM590 98h1v1h-1zM590 100h1v1h-1zM590 101h1v1h-1zM590 104h1v1h-1zM590 105h1v1h-1zM590 106h1v1h-1zM590 111h1v1h-1zM590 113h1v1h-1zM590 114h1v1h-1zM590 115h1v1h-1zM590 116h1v1h-1zM590 117h1v1h-1zM590 119h1v1h-1zM590 121h1v1h-1zM591 36h1v1h-1zM591 43h1v1h-1zM591 44h1v1h-1zM591 47h1v1h-1zM591 58h1v1h-1zM591 62h1v1h-1zM591 74h1v1h-1zM591 79h1v1h-1zM591 81h1v1h-1zM591 82h1v1h-1zM591 85h1v1h-1zM591 87h1v1h-1zM591 89h1v1h-1zM591 90h1v1h-1zM591 91h1v1h-1zM591 92h1v1h-1zM591 93h1v1h-1zM591 94h1v1h-1zM591 95h1v1h-1zM591 96h1v1h-1zM591 97h1v1h-1zM591 98h1v1h-1zM591 100h1v1h-1zM591 101h1v1h-1zM591 102h1v1h-1zM591 103h1v1h-1zM591 104h1v1h-1zM591 107h1v1h-1zM591 108h1v1h-1zM591 110h1v1h-1zM591 112h1v1h-1zM591 113h1v1h-1zM591 114h1v1h-1zM591 115h1v1h-1zM591 116h1v1h-1zM591 117h1v1h-1zM591 119h1v1h-1zM592 42h1v1h-1zM592 46h1v1h-1zM592 48h1v1h-1zM592 49h1v1h-1zM592 52h1v1h-1zM592 53h1v1h-1zM592 54h1v1h-1zM592 56h1v1h-1zM592 58h1v1h-1zM592 59h1v1h-1zM592 60h1v1h-1zM592 61h1v1h-1zM592 63h1v1h-1zM592 69h1v1h-1zM592 74h1v1h-1zM592 77h1v1h-1zM592 78h1v1h-1zM592 82h1v1h-1zM592 83h1v1h-1zM592 84h1v1h-1zM592 85h1v1h-1zM592 86h1v1h-1zM592 88h1v1h-1zM592 89h1v1h-1zM592 90h1v1h-1zM592 92h1v1h-1zM592 94h1v1h-1zM592 95h1v1h-1zM592 96h1v1h-1zM592 98h1v1h-1zM592 99h1v1h-1zM592 101h1v1h-1zM592 103h1v1h-1zM592 104h1v1h-1zM592 105h1v1h-1zM592 106h1v1h-1zM592 108h1v1h-1zM592 109h1v1h-1zM592 111h1v1h-1zM592 113h1v1h-1zM592 115h1v1h-1zM592 116h1v1h-1zM593 41h1v1h-1zM593 42h1v1h-1zM593 51h1v1h-1zM593 56h1v1h-1zM593 57h1v1h-1zM593 58h1v1h-1zM593 59h1v1h-1zM593 60h1v1h-1zM593 63h1v1h-1zM593 70h1v1h-1zM593 72h1v1h-1zM593 76h1v1h-1zM593 79h1v1h-1zM593 80h1v1h-1zM593 81h1v1h-1zM593 85h1v1h-1zM593 86h1v1h-1zM593 87h1v1h-1zM593 88h1v1h-1zM593 89h1v1h-1zM593 90h1v1h-1zM593 91h1v1h-1zM593 92h1v1h-1zM593 93h1v1h-1zM593 94h1v1h-1zM593 95h1v1h-1zM593 96h1v1h-1zM593 98h1v1h-1zM593 99h1v1h-1zM593 100h1v1h-1zM593 102h1v1h-1zM593 105h1v1h-1zM593 106h1v1h-1zM593 108h1v1h-1zM593 112h1v1h-1zM593 113h1v1h-1zM593 115h1v1h-1zM593 116h1v1h-1zM594 38h1v1h-1zM594 40h1v1h-1zM594 41h1v1h-1zM594 42h1v1h-1zM594 44h1v1h-1zM594 48h1v1h-1zM594 51h1v1h-1zM594 55h1v1h-1zM594 58h1v1h-1zM594 59h1v1h-1zM594 64h1v1h-1zM594 69h1v1h-1zM594 71h1v1h-1zM594 76h1v1h-1zM594 77h1v1h-1zM594 81h1v1h-1zM594 83h1v1h-1zM594 85h1v1h-1zM594 86h1v1h-1zM594 87h1v1h-1zM594 88h1v1h-1zM594 89h1v1h-1zM594 90h1v1h-1zM594 92h1v1h-1zM594 93h1v1h-1zM594 94h1v1h-1zM594 96h1v1h-1zM594 97h1v1h-1zM594 98h1v1h-1zM594 99h1v1h-1zM594 100h1v1h-1zM594 101h1v1h-1zM594 102h1v1h-1zM594 103h1v1h-1zM594 104h1v1h-1zM594 105h1v1h-1zM594 106h1v1h-1zM594 107h1v1h-1zM594 113h1v1h-1zM594 114h1v1h-1zM594 116h1v1h-1zM594 117h1v1h-1zM595 38h1v1h-1zM595 42h1v1h-1zM595 43h1v1h-1zM595 46h1v1h-1zM595 48h1v1h-1zM595 49h1v1h-1zM595 51h1v1h-1zM595 54h1v1h-1zM595 62h1v1h-1zM595 63h1v1h-1zM595 64h1v1h-1zM595 68h1v1h-1zM595 70h1v1h-1zM595 77h1v1h-1zM595 80h1v1h-1zM595 81h1v1h-1zM595 85h1v1h-1zM595 86h1v1h-1zM595 87h1v1h-1zM595 89h1v1h-1zM595 90h1v1h-1zM595 91h1v1h-1zM595 92h1v1h-1zM595 93h1v1h-1zM595 94h1v1h-1zM595 95h1v1h-1zM595 96h1v1h-1zM595 98h1v1h-1zM595 99h1v1h-1zM595 100h1v1h-1zM595 101h1v1h-1zM595 102h1v1h-1zM595 103h1v1h-1zM595 104h1v1h-1zM595 105h1v1h-1zM595 106h1v1h-1zM595 110h1v1h-1zM595 112h1v1h-1zM595 113h1v1h-1zM595 114h1v1h-1zM595 116h1v1h-1zM595 118h1v1h-1zM596 30h1v1h-1zM596 31h1v1h-1zM596 35h1v1h-1zM596 36h1v1h-1zM596 39h1v1h-1zM596 42h1v1h-1zM596 43h1v1h-1zM596 48h1v1h-1zM596 55h1v1h-1zM596 57h1v1h-1zM596 59h1v1h-1zM596 62h1v1h-1zM596 63h1v1h-1zM596 64h1v1h-1zM596 65h1v1h-1zM596 73h1v1h-1zM596 75h1v1h-1zM596 80h1v1h-1zM596 82h1v1h-1zM596 84h1v1h-1zM596 85h1v1h-1zM596 86h1v1h-1zM596 87h1v1h-1zM596 88h1v1h-1zM596 90h1v1h-1zM596 91h1v1h-1zM596 92h1v1h-1zM596 93h1v1h-1zM596 94h1v1h-1zM596 95h1v1h-1zM596 96h1v1h-1zM596 98h1v1h-1zM596 100h1v1h-1zM596 101h1v1h-1zM596 102h1v1h-1zM596 103h1v1h-1zM596 104h1v1h-1zM596 105h1v1h-1zM596 107h1v1h-1zM596 110h1v1h-1zM596 111h1v1h-1zM596 112h1v1h-1zM597 30h1v1h-1zM597 33h1v1h-1zM597 35h1v1h-1zM597 36h1v1h-1zM597 37h1v1h-1zM597 41h1v1h-1zM597 44h1v1h-1zM597 49h1v1h-1zM597 52h1v1h-1zM597 57h1v1h-1zM597 61h1v1h-1zM597 62h1v1h-1zM597 66h1v1h-1zM597 68h1v1h-1zM597 75h1v1h-1zM597 77h1v1h-1zM597 79h1v1h-1zM597 82h1v1h-1zM597 84h1v1h-1zM597 85h1v1h-1zM597 86h1v1h-1zM597 89h1v1h-1zM597 90h1v1h-1zM597 93h1v1h-1zM597 94h1v1h-1zM597 95h1v1h-1zM597 96h1v1h-1zM597 97h1v1h-1zM597 98h1v1h-1zM597 104h1v1h-1zM597 105h1v1h-1zM597 106h1v1h-1zM597 109h1v1h-1zM597 111h1v1h-1zM597 112h1v1h-1zM597 113h1v1h-1zM597 116h1v1h-1zM598 26h1v1h-1zM598 33h1v1h-1zM598 35h1v1h-1zM598 36h1v1h-1zM598 38h1v1h-1zM598 41h1v1h-1zM598 51h1v1h-1zM598 54h1v1h-1zM598 60h1v1h-1zM598 64h1v1h-1zM598 68h1v1h-1zM598 69h1v1h-1zM598 70h1v1h-1zM598 71h1v1h-1zM598 76h1v1h-1zM598 81h1v1h-1zM598 86h1v1h-1zM598 87h1v1h-1zM598 88h1v1h-1zM598 89h1v1h-1zM598 90h1v1h-1zM598 92h1v1h-1zM598 93h1v1h-1zM598 94h1v1h-1zM598 95h1v1h-1zM598 97h1v1h-1zM598 98h1v1h-1zM598 101h1v1h-1zM598 102h1v1h-1zM598 103h1v1h-1zM598 105h1v1h-1zM598 106h1v1h-1zM598 107h1v1h-1zM598 109h1v1h-1zM599 25h1v1h-1zM599 34h1v1h-1zM599 39h1v1h-1zM599 40h1v1h-1zM599 44h1v1h-1zM599 54h1v1h-1zM599 59h1v1h-1zM599 75h1v1h-1zM599 77h1v1h-1zM599 84h1v1h-1zM599 90h1v1h-1zM599 92h1v1h-1zM599 93h1v1h-1zM599 94h1v1h-1zM599 95h1v1h-1zM599 96h1v1h-1zM599 97h1v1h-1zM599 98h1v1h-1zM599 99h1v1h-1zM599 100h1v1h-1zM599 102h1v1h-1zM599 103h1v1h-1zM599 104h1v1h-1zM599 105h1v1h-1zM599 106h1v1h-1zM599 107h1v1h-1zM599 108h1v1h-1zM599 111h1v1h-1zM600 25h1v1h-1zM600 26h1v1h-1zM600 31h1v1h-1zM600 38h1v1h-1zM600 41h1v1h-1zM600 49h1v1h-1zM600 50h1v1h-1zM600 63h1v1h-1zM600 69h1v1h-1zM600 70h1v1h-1zM600 72h1v1h-1zM600 77h1v1h-1zM600 80h1v1h-1zM600 81h1v1h-1zM600 84h1v1h-1zM600 90h1v1h-1zM600 92h1v1h-1zM600 93h1v1h-1zM600 94h1v1h-1zM600 95h1v1h-1zM600 96h1v1h-1zM600 97h1v1h-1zM600 100h1v1h-1zM600 101h1v1h-1zM600 102h1v1h-1zM600 106h1v1h-1zM600 108h1v1h-1zM600 110h1v1h-1zM600 113h1v1h-1zM601 28h1v1h-1zM601 32h1v1h-1zM601 34h1v1h-1zM601 35h1v1h-1zM601 39h1v1h-1zM601 42h1v1h-1zM601 46h1v1h-1zM601 50h1v1h-1zM601 54h1v1h-1zM601 62h1v1h-1zM601 63h1v1h-1zM601 66h1v1h-1zM601 68h1v1h-1zM601 69h1v1h-1zM601 71h1v1h-1zM601 73h1v1h-1zM601 75h1v1h-1zM601 81h1v1h-1zM601 82h1v1h-1zM601 84h1v1h-1zM601 88h1v1h-1zM601 89h1v1h-1zM601 90h1v1h-1zM601 91h1v1h-1zM601 93h1v1h-1zM601 94h1v1h-1zM601 96h1v1h-1zM601 97h1v1h-1zM601 100h1v1h-1zM601 106h1v1h-1zM601 107h1v1h-1zM601 108h1v1h-1zM601 110h1v1h-1zM602 25h1v1h-1zM602 28h1v1h-1zM602 29h1v1h-1zM602 31h1v1h-1zM602 33h1v1h-1zM602 34h1v1h-1zM602 36h1v1h-1zM602 37h1v1h-1zM602 38h1v1h-1zM602 39h1v1h-1zM602 44h1v1h-1zM602 46h1v1h-1zM602 49h1v1h-1zM602 54h1v1h-1zM602 56h1v1h-1zM602 57h1v1h-1zM602 65h1v1h-1zM602 68h1v1h-1zM602 69h1v1h-1zM602 71h1v1h-1zM602 74h1v1h-1zM602 75h1v1h-1zM602 77h1v1h-1zM602 79h1v1h-1zM602 83h1v1h-1zM602 86h1v1h-1zM602 89h1v1h-1zM602 90h1v1h-1zM602 91h1v1h-1zM602 92h1v1h-1zM602 93h1v1h-1zM602 96h1v1h-1zM602 97h1v1h-1zM602 99h1v1h-1zM602 100h1v1h-1zM602 107h1v1h-1zM602 108h1v1h-1zM603 30h1v1h-1zM603 34h1v1h-1zM603 43h1v1h-1zM603 47h1v1h-1zM603 50h1v1h-1zM603 52h1v1h-1zM603 53h1v1h-1zM603 54h1v1h-1zM603 55h1v1h-1zM603 59h1v1h-1zM603 69h1v1h-1zM603 73h1v1h-1zM603 75h1v1h-1zM603 76h1v1h-1zM603 82h1v1h-1zM603 86h1v1h-1zM603 88h1v1h-1zM603 89h1v1h-1zM603 92h1v1h-1zM603 94h1v1h-1zM603 95h1v1h-1zM603 100h1v1h-1zM603 107h1v1h-1zM603 108h1v1h-1zM604 24h1v1h-1zM604 25h1v1h-1zM604 26h1v1h-1zM604 28h1v1h-1zM604 30h1v1h-1zM604 31h1v1h-1zM604 35h1v1h-1zM604 36h1v1h-1zM604 37h1v1h-1zM604 38h1v1h-1zM604 39h1v1h-1zM604 44h1v1h-1zM604 48h1v1h-1zM604 52h1v1h-1zM604 56h1v1h-1zM604 58h1v1h-1zM604 61h1v1h-1zM604 65h1v1h-1zM604 68h1v1h-1zM604 73h1v1h-1zM604 81h1v1h-1zM604 89h1v1h-1zM604 91h1v1h-1zM604 95h1v1h-1zM604 97h1v1h-1zM604 104h1v1h-1zM604 105h1v1h-1zM605 27h1v1h-1zM605 29h1v1h-1zM605 30h1v1h-1zM605 31h1v1h-1zM605 32h1v1h-1zM605 35h1v1h-1zM605 37h1v1h-1zM605 39h1v1h-1zM605 40h1v1h-1zM605 43h1v1h-1zM605 52h1v1h-1zM605 53h1v1h-1zM605 55h1v1h-1zM605 56h1v1h-1zM605 61h1v1h-1zM605 63h1v1h-1zM605 66h1v1h-1zM605 70h1v1h-1zM605 72h1v1h-1zM605 73h1v1h-1zM605 90h1v1h-1zM605 93h1v1h-1zM605 94h1v1h-1zM605 103h1v1h-1zM605 107h1v1h-1zM605 109h1v1h-1zM606 26h1v1h-1zM606 28h1v1h-1zM606 30h1v1h-1zM606 32h1v1h-1zM606 34h1v1h-1zM606 36h1v1h-1zM606 38h1v1h-1zM606 39h1v1h-1zM606 41h1v1h-1zM606 44h1v1h-1zM606 46h1v1h-1zM606 50h1v1h-1zM606 51h1v1h-1zM606 54h1v1h-1zM606 57h1v1h-1zM606 61h1v1h-1zM606 62h1v1h-1zM606 67h1v1h-1zM606 70h1v1h-1zM606 73h1v1h-1zM606 78h1v1h-1zM606 82h1v1h-1zM606 83h1v1h-1zM606 86h1v1h-1zM606 90h1v1h-1zM606 91h1v1h-1zM606 92h1v1h-1zM606 93h1v1h-1zM606 95h1v1h-1zM606 98h1v1h-1zM606 99h1v1h-1zM606 100h1v1h-1zM606 109h1v1h-1zM606 110h1v1h-1zM607 27h1v1h-1zM607 29h1v1h-1zM607 30h1v1h-1zM607 32h1v1h-1zM607 34h1v1h-1zM607 35h1v1h-1zM607 39h1v1h-1zM607 42h1v1h-1zM607 43h1v1h-1zM607 44h1v1h-1zM607 46h1v1h-1zM607 56h1v1h-1zM607 59h1v1h-1zM607 71h1v1h-1zM607 74h1v1h-1zM607 79h1v1h-1zM607 83h1v1h-1zM607 88h1v1h-1zM607 89h1v1h-1zM607 96h1v1h-1zM607 99h1v1h-1zM607 100h1v1h-1zM607 105h1v1h-1zM607 109h1v1h-1zM607 110h1v1h-1zM607 112h1v1h-1zM607 113h1v1h-1zM607 115h1v1h-1zM608 23h1v1h-1zM608 25h1v1h-1zM608 29h1v1h-1zM608 31h1v1h-1zM608 35h1v1h-1zM608 36h1v1h-1zM608 37h1v1h-1zM608 41h1v1h-1zM608 48h1v1h-1zM608 66h1v1h-1zM608 69h1v1h-1zM608 72h1v1h-1zM608 84h1v1h-1zM608 86h1v1h-1zM608 90h1v1h-1zM608 93h1v1h-1zM608 94h1v1h-1zM608 97h1v1h-1zM608 99h1v1h-1zM608 102h1v1h-1zM609 29h1v1h-1zM609 30h1v1h-1zM609 31h1v1h-1zM609 36h1v1h-1zM609 37h1v1h-1zM609 38h1v1h-1zM609 41h1v1h-1zM609 44h1v1h-1zM609 46h1v1h-1zM609 50h1v1h-1zM609 52h1v1h-1zM609 59h1v1h-1zM609 68h1v1h-1zM609 70h1v1h-1zM609 71h1v1h-1zM609 75h1v1h-1zM609 77h1v1h-1zM609 79h1v1h-1zM609 81h1v1h-1zM609 89h1v1h-1zM609 105h1v1h-1zM609 108h1v1h-1zM610 27h1v1h-1zM610 32h1v1h-1zM610 33h1v1h-1zM610 35h1v1h-1zM610 38h1v1h-1zM610 40h1v1h-1zM610 43h1v1h-1zM610 44h1v1h-1zM610 45h1v1h-1zM610 53h1v1h-1zM610 58h1v1h-1zM610 59h1v1h-1zM610 64h1v1h-1zM610 81h1v1h-1zM610 82h1v1h-1zM610 85h1v1h-1zM610 95h1v1h-1zM610 96h1v1h-1zM610 97h1v1h-1zM610 99h1v1h-1zM610 103h1v1h-1zM610 104h1v1h-1zM610 105h1v1h-1zM610 115h1v1h-1zM611 25h1v1h-1zM611 31h1v1h-1zM611 33h1v1h-1zM611 35h1v1h-1zM611 37h1v1h-1zM611 44h1v1h-1zM611 55h1v1h-1zM611 57h1v1h-1zM611 61h1v1h-1zM611 63h1v1h-1zM611 66h1v1h-1zM611 69h1v1h-1zM611 71h1v1h-1zM611 80h1v1h-1zM611 83h1v1h-1zM611 84h1v1h-1zM611 85h1v1h-1zM611 87h1v1h-1zM611 92h1v1h-1zM611 95h1v1h-1zM611 97h1v1h-1zM611 100h1v1h-1zM611 103h1v1h-1zM611 105h1v1h-1zM611 107h1v1h-1zM612 30h1v1h-1zM612 32h1v1h-1zM612 33h1v1h-1zM612 36h1v1h-1zM612 37h1v1h-1zM612 40h1v1h-1zM612 45h1v1h-1zM612 57h1v1h-1zM612 62h1v1h-1zM612 80h1v1h-1zM612 88h1v1h-1zM612 89h1v1h-1zM612 93h1v1h-1zM612 100h1v1h-1zM612 103h1v1h-1zM612 109h1v1h-1zM613 25h1v1h-1zM613 27h1v1h-1zM613 30h1v1h-1zM613 31h1v1h-1zM613 33h1v1h-1zM613 34h1v1h-1zM613 35h1v1h-1zM613 41h1v1h-1zM613 44h1v1h-1zM613 45h1v1h-1zM613 48h1v1h-1zM613 50h1v1h-1zM613 55h1v1h-1zM613 63h1v1h-1zM613 71h1v1h-1zM613 75h1v1h-1zM613 80h1v1h-1zM613 82h1v1h-1zM613 84h1v1h-1zM613 90h1v1h-1zM613 95h1v1h-1zM613 98h1v1h-1zM613 99h1v1h-1zM613 103h1v1h-1zM613 104h1v1h-1zM613 105h1v1h-1zM614 28h1v1h-1zM614 29h1v1h-1zM614 33h1v1h-1zM614 34h1v1h-1zM614 35h1v1h-1zM614 39h1v1h-1zM614 40h1v1h-1zM614 43h1v1h-1zM614 46h1v1h-1zM614 52h1v1h-1zM614 57h1v1h-1zM614 72h1v1h-1zM614 77h1v1h-1zM614 80h1v1h-1zM614 81h1v1h-1zM614 83h1v1h-1zM614 84h1v1h-1zM614 86h1v1h-1zM614 87h1v1h-1zM614 89h1v1h-1zM614 93h1v1h-1zM614 106h1v1h-1zM615 25h1v1h-1zM615 26h1v1h-1zM615 27h1v1h-1zM615 28h1v1h-1zM615 29h1v1h-1zM615 30h1v1h-1zM615 31h1v1h-1zM615 32h1v1h-1zM615 33h1v1h-1zM615 34h1v1h-1zM615 37h1v1h-1zM615 40h1v1h-1zM615 41h1v1h-1zM615 42h1v1h-1zM615 45h1v1h-1zM615 47h1v1h-1zM615 52h1v1h-1zM615 53h1v1h-1zM615 64h1v1h-1zM615 74h1v1h-1zM615 78h1v1h-1zM615 81h1v1h-1zM615 100h1v1h-1zM615 104h1v1h-1zM615 109h1v1h-1zM616 27h1v1h-1zM616 28h1v1h-1zM616 29h1v1h-1zM616 30h1v1h-1zM616 31h1v1h-1zM616 32h1v1h-1zM616 33h1v1h-1zM616 34h1v1h-1zM616 35h1v1h-1zM616 36h1v1h-1zM616 37h1v1h-1zM616 38h1v1h-1zM616 43h1v1h-1zM616 44h1v1h-1zM616 46h1v1h-1zM616 49h1v1h-1zM616 54h1v1h-1zM616 56h1v1h-1zM616 58h1v1h-1zM616 77h1v1h-1zM616 79h1v1h-1zM616 80h1v1h-1zM616 81h1v1h-1zM616 91h1v1h-1zM616 93h1v1h-1zM616 99h1v1h-1zM616 105h1v1h-1zM617 27h1v1h-1zM617 30h1v1h-1zM617 31h1v1h-1zM617 32h1v1h-1zM617 35h1v1h-1zM617 36h1v1h-1zM617 38h1v1h-1zM617 41h1v1h-1zM617 44h1v1h-1zM617 48h1v1h-1zM617 53h1v1h-1zM617 58h1v1h-1zM617 60h1v1h-1zM617 68h1v1h-1zM617 69h1v1h-1zM617 70h1v1h-1zM617 77h1v1h-1zM617 79h1v1h-1zM617 82h1v1h-1zM617 84h1v1h-1zM617 88h1v1h-1zM617 89h1v1h-1zM617 92h1v1h-1zM617 95h1v1h-1zM617 99h1v1h-1zM617 104h1v1h-1zM617 105h1v1h-1zM617 111h1v1h-1zM618 25h1v1h-1zM618 27h1v1h-1zM618 28h1v1h-1zM618 30h1v1h-1zM618 31h1v1h-1zM618 33h1v1h-1zM618 34h1v1h-1zM618 35h1v1h-1zM618 36h1v1h-1zM618 37h1v1h-1zM618 39h1v1h-1zM618 40h1v1h-1zM618 45h1v1h-1zM618 47h1v1h-1zM618 50h1v1h-1zM618 59h1v1h-1zM618 60h1v1h-1zM618 66h1v1h-1zM618 69h1v1h-1zM618 70h1v1h-1zM618 71h1v1h-1zM618 75h1v1h-1zM618 76h1v1h-1zM618 78h1v1h-1zM618 79h1v1h-1zM618 82h1v1h-1zM618 87h1v1h-1zM618 88h1v1h-1zM618 89h1v1h-1zM618 91h1v1h-1zM618 94h1v1h-1zM618 97h1v1h-1zM618 100h1v1h-1zM618 102h1v1h-1zM618 104h1v1h-1zM618 113h1v1h-1zM619 27h1v1h-1zM619 29h1v1h-1zM619 30h1v1h-1zM619 31h1v1h-1zM619 33h1v1h-1zM619 36h1v1h-1zM619 37h1v1h-1zM619 38h1v1h-1zM619 39h1v1h-1zM619 44h1v1h-1zM619 46h1v1h-1zM619 50h1v1h-1zM619 53h1v1h-1zM619 54h1v1h-1zM619 60h1v1h-1zM619 64h1v1h-1zM619 66h1v1h-1zM619 68h1v1h-1zM619 69h1v1h-1zM619 72h1v1h-1zM619 73h1v1h-1zM619 77h1v1h-1zM619 79h1v1h-1zM619 80h1v1h-1zM619 81h1v1h-1zM619 82h1v1h-1zM619 91h1v1h-1zM619 99h1v1h-1zM619 103h1v1h-1zM619 110h1v1h-1zM620 28h1v1h-1zM620 30h1v1h-1zM620 32h1v1h-1zM620 33h1v1h-1zM620 35h1v1h-1zM620 40h1v1h-1zM620 41h1v1h-1zM620 43h1v1h-1zM620 45h1v1h-1zM620 49h1v1h-1zM620 50h1v1h-1zM620 53h1v1h-1zM620 55h1v1h-1zM620 56h1v1h-1zM620 59h1v1h-1zM620 63h1v1h-1zM620 67h1v1h-1zM620 68h1v1h-1zM620 69h1v1h-1zM620 70h1v1h-1zM620 72h1v1h-1zM620 73h1v1h-1zM620 75h1v1h-1zM620 76h1v1h-1zM620 78h1v1h-1zM620 85h1v1h-1zM620 94h1v1h-1zM620 108h1v1h-1zM620 110h1v1h-1zM621 29h1v1h-1zM621 33h1v1h-1zM621 35h1v1h-1zM621 37h1v1h-1zM621 38h1v1h-1zM621 40h1v1h-1zM621 44h1v1h-1zM621 47h1v1h-1zM621 49h1v1h-1zM621 51h1v1h-1zM621 52h1v1h-1zM621 57h1v1h-1zM621 58h1v1h-1zM621 59h1v1h-1zM621 60h1v1h-1zM621 62h1v1h-1zM621 65h1v1h-1zM621 78h1v1h-1zM621 81h1v1h-1zM621 83h1v1h-1zM621 91h1v1h-1zM621 95h1v1h-1zM621 98h1v1h-1zM621 99h1v1h-1zM621 101h1v1h-1zM621 105h1v1h-1zM621 114h1v1h-1zM622 29h1v1h-1zM622 30h1v1h-1zM622 31h1v1h-1zM622 32h1v1h-1zM622 33h1v1h-1zM622 34h1v1h-1zM622 35h1v1h-1zM622 36h1v1h-1zM622 37h1v1h-1zM622 38h1v1h-1zM622 40h1v1h-1zM622 41h1v1h-1zM622 43h1v1h-1zM622 46h1v1h-1zM622 47h1v1h-1zM622 48h1v1h-1zM622 50h1v1h-1zM622 52h1v1h-1zM622 54h1v1h-1zM622 59h1v1h-1zM622 65h1v1h-1zM622 75h1v1h-1zM622 79h1v1h-1zM622 80h1v1h-1zM622 83h1v1h-1zM622 84h1v1h-1zM622 90h1v1h-1zM622 96h1v1h-1zM622 109h1v1h-1zM623 24h1v1h-1zM623 29h1v1h-1zM623 30h1v1h-1zM623 31h1v1h-1zM623 33h1v1h-1zM623 34h1v1h-1zM623 35h1v1h-1zM623 36h1v1h-1zM623 37h1v1h-1zM623 42h1v1h-1zM623 50h1v1h-1zM623 61h1v1h-1zM623 62h1v1h-1zM623 66h1v1h-1zM623 71h1v1h-1zM623 74h1v1h-1zM623 76h1v1h-1zM623 77h1v1h-1zM623 78h1v1h-1zM623 86h1v1h-1zM623 88h1v1h-1zM623 90h1v1h-1zM623 92h1v1h-1zM623 93h1v1h-1zM623 101h1v1h-1zM623 102h1v1h-1zM623 106h1v1h-1zM623 108h1v1h-1zM623 109h1v1h-1zM623 114h1v1h-1zM623 115h1v1h-1zM624 27h1v1h-1zM624 29h1v1h-1zM624 30h1v1h-1zM624 32h1v1h-1zM624 33h1v1h-1zM624 34h1v1h-1zM624 35h1v1h-1zM624 39h1v1h-1zM624 40h1v1h-1zM624 45h1v1h-1zM624 46h1v1h-1zM624 47h1v1h-1zM624 49h1v1h-1zM624 54h1v1h-1zM624 55h1v1h-1zM624 57h1v1h-1zM624 58h1v1h-1zM624 61h1v1h-1zM624 65h1v1h-1zM624 68h1v1h-1zM624 73h1v1h-1zM624 74h1v1h-1zM624 76h1v1h-1zM624 83h1v1h-1zM624 87h1v1h-1zM624 88h1v1h-1zM624 90h1v1h-1zM624 91h1v1h-1zM624 93h1v1h-1zM624 97h1v1h-1zM624 101h1v1h-1zM624 105h1v1h-1zM624 107h1v1h-1zM625 24h1v1h-1zM625 25h1v1h-1zM625 26h1v1h-1zM625 28h1v1h-1zM625 31h1v1h-1zM625 33h1v1h-1zM625 35h1v1h-1zM625 36h1v1h-1zM625 41h1v1h-1zM625 45h1v1h-1zM625 46h1v1h-1zM625 48h1v1h-1zM625 50h1v1h-1zM625 52h1v1h-1zM625 56h1v1h-1zM625 59h1v1h-1zM625 63h1v1h-1zM625 65h1v1h-1zM625 66h1v1h-1zM625 69h1v1h-1zM625 71h1v1h-1zM625 76h1v1h-1zM625 90h1v1h-1zM625 96h1v1h-1zM625 97h1v1h-1zM625 98h1v1h-1zM625 99h1v1h-1zM625 102h1v1h-1zM625 104h1v1h-1zM625 107h1v1h-1zM625 117h1v1h-1zM626 25h1v1h-1zM626 28h1v1h-1zM626 30h1v1h-1zM626 31h1v1h-1zM626 32h1v1h-1zM626 33h1v1h-1zM626 34h1v1h-1zM626 35h1v1h-1zM626 36h1v1h-1zM626 37h1v1h-1zM626 38h1v1h-1zM626 42h1v1h-1zM626 44h1v1h-1zM626 46h1v1h-1zM626 52h1v1h-1zM626 56h1v1h-1zM626 58h1v1h-1zM626 61h1v1h-1zM626 63h1v1h-1zM626 67h1v1h-1zM626 70h1v1h-1zM626 72h1v1h-1zM626 73h1v1h-1zM626 76h1v1h-1zM626 84h1v1h-1zM626 89h1v1h-1zM626 92h1v1h-1zM626 97h1v1h-1zM626 98h1v1h-1zM626 103h1v1h-1zM626 107h1v1h-1zM626 113h1v1h-1zM626 116h1v1h-1zM627 28h1v1h-1zM627 29h1v1h-1zM627 30h1v1h-1zM627 32h1v1h-1zM627 34h1v1h-1zM627 35h1v1h-1zM627 37h1v1h-1zM627 43h1v1h-1zM627 44h1v1h-1zM627 46h1v1h-1zM627 50h1v1h-1zM627 51h1v1h-1zM627 53h1v1h-1zM627 56h1v1h-1zM627 57h1v1h-1zM627 66h1v1h-1zM627 68h1v1h-1zM627 75h1v1h-1zM627 77h1v1h-1zM627 82h1v1h-1zM627 88h1v1h-1zM627 90h1v1h-1zM627 103h1v1h-1zM627 104h1v1h-1zM627 106h1v1h-1zM627 108h1v1h-1zM627 109h1v1h-1zM627 110h1v1h-1zM627 111h1v1h-1zM627 116h1v1h-1zM628 25h1v1h-1zM628 30h1v1h-1zM628 31h1v1h-1zM628 32h1v1h-1zM628 34h1v1h-1zM628 35h1v1h-1zM628 36h1v1h-1zM628 37h1v1h-1zM628 38h1v1h-1zM628 41h1v1h-1zM628 43h1v1h-1zM628 50h1v1h-1zM628 52h1v1h-1zM628 57h1v1h-1zM628 60h1v1h-1zM628 68h1v1h-1zM628 72h1v1h-1zM628 73h1v1h-1zM628 81h1v1h-1zM628 85h1v1h-1zM628 92h1v1h-1zM628 98h1v1h-1zM628 102h1v1h-1zM628 105h1v1h-1zM628 108h1v1h-1zM628 110h1v1h-1zM628 111h1v1h-1zM628 112h1v1h-1zM628 115h1v1h-1zM629 25h1v1h-1zM629 26h1v1h-1zM629 28h1v1h-1zM629 30h1v1h-1zM629 31h1v1h-1zM629 34h1v1h-1zM629 39h1v1h-1zM629 40h1v1h-1zM629 43h1v1h-1zM629 48h1v1h-1zM629 49h1v1h-1zM629 59h1v1h-1zM629 62h1v1h-1zM629 65h1v1h-1zM629 72h1v1h-1zM629 76h1v1h-1zM629 79h1v1h-1zM629 82h1v1h-1zM629 86h1v1h-1zM629 88h1v1h-1zM629 89h1v1h-1zM629 93h1v1h-1zM629 102h1v1h-1zM629 104h1v1h-1zM629 110h1v1h-1zM629 111h1v1h-1zM629 113h1v1h-1zM629 116h1v1h-1zM629 117h1v1h-1zM630 26h1v1h-1zM630 31h1v1h-1zM630 34h1v1h-1zM630 36h1v1h-1zM630 42h1v1h-1zM630 47h1v1h-1zM630 54h1v1h-1zM630 55h1v1h-1zM630 58h1v1h-1zM630 60h1v1h-1zM630 63h1v1h-1zM630 64h1v1h-1zM630 67h1v1h-1zM630 71h1v1h-1zM630 72h1v1h-1zM630 73h1v1h-1zM630 76h1v1h-1zM630 82h1v1h-1zM630 88h1v1h-1zM630 96h1v1h-1zM630 102h1v1h-1zM630 105h1v1h-1zM630 109h1v1h-1zM630 111h1v1h-1zM630 112h1v1h-1zM630 113h1v1h-1zM630 116h1v1h-1zM630 118h1v1h-1zM630 119h1v1h-1zM630 120h1v1h-1zM631 33h1v1h-1zM631 35h1v1h-1zM631 41h1v1h-1zM631 46h1v1h-1zM631 49h1v1h-1zM631 53h1v1h-1zM631 60h1v1h-1zM631 61h1v1h-1zM631 64h1v1h-1zM631 69h1v1h-1zM631 70h1v1h-1zM631 73h1v1h-1zM631 74h1v1h-1zM631 81h1v1h-1zM631 84h1v1h-1zM631 89h1v1h-1zM631 95h1v1h-1zM631 96h1v1h-1zM631 97h1v1h-1zM631 98h1v1h-1zM631 99h1v1h-1zM631 101h1v1h-1zM631 102h1v1h-1zM631 104h1v1h-1zM631 105h1v1h-1zM631 107h1v1h-1zM631 109h1v1h-1zM631 111h1v1h-1zM631 112h1v1h-1zM631 113h1v1h-1zM631 114h1v1h-1zM631 115h1v1h-1zM631 116h1v1h-1zM631 117h1v1h-1zM631 119h1v1h-1zM632 36h1v1h-1zM632 47h1v1h-1zM632 49h1v1h-1zM632 51h1v1h-1zM632 55h1v1h-1zM632 61h1v1h-1zM632 62h1v1h-1zM632 67h1v1h-1zM632 69h1v1h-1zM632 70h1v1h-1zM632 76h1v1h-1zM632 77h1v1h-1zM632 79h1v1h-1zM632 82h1v1h-1zM632 86h1v1h-1zM632 88h1v1h-1zM632 90h1v1h-1zM632 94h1v1h-1zM632 104h1v1h-1zM632 105h1v1h-1zM632 107h1v1h-1zM632 110h1v1h-1zM632 112h1v1h-1zM632 113h1v1h-1zM632 123h1v1h-1zM633 36h1v1h-1zM633 41h1v1h-1zM633 47h1v1h-1zM633 50h1v1h-1zM633 52h1v1h-1zM633 55h1v1h-1zM633 59h1v1h-1zM633 61h1v1h-1zM633 65h1v1h-1zM633 66h1v1h-1zM633 67h1v1h-1zM633 69h1v1h-1zM633 70h1v1h-1zM633 74h1v1h-1zM633 79h1v1h-1zM633 84h1v1h-1zM633 86h1v1h-1zM633 89h1v1h-1zM633 90h1v1h-1zM633 93h1v1h-1zM633 95h1v1h-1zM633 96h1v1h-1zM633 101h1v1h-1zM633 102h1v1h-1zM633 107h1v1h-1zM633 108h1v1h-1zM633 110h1v1h-1zM633 111h1v1h-1zM633 112h1v1h-1zM633 114h1v1h-1zM633 117h1v1h-1zM633 122h1v1h-1zM633 124h1v1h-1zM634 52h1v1h-1zM634 53h1v1h-1zM634 54h1v1h-1zM634 55h1v1h-1zM634 57h1v1h-1zM634 62h1v1h-1zM634 63h1v1h-1zM634 70h1v1h-1zM634 71h1v1h-1zM634 74h1v1h-1zM634 78h1v1h-1zM634 84h1v1h-1zM634 85h1v1h-1zM634 89h1v1h-1zM634 90h1v1h-1zM634 91h1v1h-1zM634 92h1v1h-1zM634 93h1v1h-1zM634 97h1v1h-1zM634 98h1v1h-1zM634 101h1v1h-1zM634 102h1v1h-1zM634 103h1v1h-1zM634 105h1v1h-1zM634 107h1v1h-1zM634 114h1v1h-1zM634 118h1v1h-1zM634 120h1v1h-1zM634 121h1v1h-1zM634 124h1v1h-1zM634 126h1v1h-1zM635 47h1v1h-1zM635 50h1v1h-1zM635 52h1v1h-1zM635 61h1v1h-1zM635 72h1v1h-1zM635 77h1v1h-1zM635 78h1v1h-1zM635 85h1v1h-1zM635 88h1v1h-1zM635 89h1v1h-1zM635 91h1v1h-1zM635 92h1v1h-1zM635 95h1v1h-1zM635 99h1v1h-1zM635 105h1v1h-1zM635 106h1v1h-1zM635 112h1v1h-1zM635 114h1v1h-1zM635 118h1v1h-1zM635 121h1v1h-1zM635 124h1v1h-1zM635 125h1v1h-1zM635 130h1v1h-1zM636 49h1v1h-1zM636 51h1v1h-1zM636 54h1v1h-1zM636 59h1v1h-1zM636 66h1v1h-1zM636 68h1v1h-1zM636 78h1v1h-1zM636 79h1v1h-1zM636 82h1v1h-1zM636 85h1v1h-1zM636 88h1v1h-1zM636 90h1v1h-1zM636 94h1v1h-1zM636 95h1v1h-1zM636 97h1v1h-1zM636 98h1v1h-1zM636 99h1v1h-1zM636 101h1v1h-1zM636 103h1v1h-1zM636 104h1v1h-1zM636 105h1v1h-1zM636 106h1v1h-1zM636 107h1v1h-1zM636 109h1v1h-1zM636 111h1v1h-1zM636 112h1v1h-1zM636 117h1v1h-1zM636 120h1v1h-1zM636 125h1v1h-1zM637 55h1v1h-1zM637 60h1v1h-1zM637 62h1v1h-1zM637 65h1v1h-1zM637 69h1v1h-1zM637 71h1v1h-1zM637 72h1v1h-1zM637 78h1v1h-1zM637 79h1v1h-1zM637 82h1v1h-1zM637 83h1v1h-1zM637 91h1v1h-1zM637 98h1v1h-1zM637 100h1v1h-1zM637 110h1v1h-1zM637 111h1v1h-1zM637 116h1v1h-1zM637 120h1v1h-1zM637 121h1v1h-1zM637 122h1v1h-1zM637 123h1v1h-1zM637 125h1v1h-1zM637 127h1v1h-1zM637 132h1v1h-1zM638 53h1v1h-1zM638 54h1v1h-1zM638 55h1v1h-1zM638 60h1v1h-1zM638 62h1v1h-1zM638 66h1v1h-1zM638 68h1v1h-1zM638 69h1v1h-1zM638 71h1v1h-1zM638 76h1v1h-1zM638 80h1v1h-1zM638 84h1v1h-1zM638 90h1v1h-1zM638 91h1v1h-1zM638 95h1v1h-1zM638 100h1v1h-1zM638 101h1v1h-1zM638 102h1v1h-1zM638 103h1v1h-1zM638 104h1v1h-1zM638 105h1v1h-1zM638 107h1v1h-1zM638 108h1v1h-1zM638 109h1v1h-1zM638 110h1v1h-1zM638 111h1v1h-1zM638 112h1v1h-1zM638 116h1v1h-1zM638 119h1v1h-1zM638 120h1v1h-1zM638 121h1v1h-1zM638 122h1v1h-1zM638 125h1v1h-1zM638 126h1v1h-1zM638 130h1v1h-1zM639 49h1v1h-1zM639 51h1v1h-1zM639 54h1v1h-1zM639 58h1v1h-1zM639 59h1v1h-1zM639 64h1v1h-1zM639 67h1v1h-1zM639 78h1v1h-1zM639 79h1v1h-1zM639 84h1v1h-1zM639 85h1v1h-1zM639 87h1v1h-1zM639 90h1v1h-1zM639 93h1v1h-1zM639 96h1v1h-1zM639 101h1v1h-1zM639 102h1v1h-1zM639 103h1v1h-1zM639 105h1v1h-1zM639 106h1v1h-1zM639 107h1v1h-1zM639 108h1v1h-1zM639 109h1v1h-1zM639 110h1v1h-1zM639 111h1v1h-1zM639 112h1v1h-1zM639 113h1v1h-1zM639 117h1v1h-1zM639 119h1v1h-1zM639 124h1v1h-1zM639 127h1v1h-1zM639 128h1v1h-1zM639 131h1v1h-1zM639 135h1v1h-1zM639 136h1v1h-1zM640 53h1v1h-1zM640 58h1v1h-1zM640 66h1v1h-1zM640 67h1v1h-1zM640 68h1v1h-1zM640 72h1v1h-1zM640 73h1v1h-1zM640 79h1v1h-1zM640 80h1v1h-1zM640 82h1v1h-1zM640 84h1v1h-1zM640 91h1v1h-1zM640 92h1v1h-1zM640 95h1v1h-1zM640 99h1v1h-1zM640 103h1v1h-1zM640 104h1v1h-1zM640 106h1v1h-1zM640 107h1v1h-1zM640 108h1v1h-1zM640 109h1v1h-1zM640 112h1v1h-1zM640 114h1v1h-1zM640 116h1v1h-1zM640 122h1v1h-1zM640 125h1v1h-1zM640 129h1v1h-1zM640 132h1v1h-1zM640 134h1v1h-1zM641 56h1v1h-1zM641 57h1v1h-1zM641 58h1v1h-1zM641 60h1v1h-1zM641 65h1v1h-1zM641 66h1v1h-1zM641 71h1v1h-1zM641 73h1v1h-1zM641 76h1v1h-1zM641 79h1v1h-1zM641 80h1v1h-1zM641 85h1v1h-1zM641 86h1v1h-1zM641 89h1v1h-1zM641 90h1v1h-1zM641 97h1v1h-1zM641 99h1v1h-1zM641 100h1v1h-1zM641 103h1v1h-1zM641 105h1v1h-1zM641 106h1v1h-1zM641 107h1v1h-1zM641 110h1v1h-1zM641 112h1v1h-1zM641 113h1v1h-1zM641 117h1v1h-1zM641 118h1v1h-1zM641 119h1v1h-1zM641 120h1v1h-1zM641 122h1v1h-1zM641 123h1v1h-1zM641 127h1v1h-1zM641 129h1v1h-1zM641 130h1v1h-1zM641 131h1v1h-1zM641 132h1v1h-1zM641 135h1v1h-1zM641 136h1v1h-1zM642 53h1v1h-1zM642 55h1v1h-1zM642 63h1v1h-1zM642 64h1v1h-1zM642 74h1v1h-1zM642 78h1v1h-1zM642 81h1v1h-1zM642 85h1v1h-1zM642 86h1v1h-1zM642 89h1v1h-1zM642 91h1v1h-1zM642 92h1v1h-1zM642 97h1v1h-1zM642 98h1v1h-1zM642 99h1v1h-1zM642 100h1v1h-1zM642 102h1v1h-1zM642 104h1v1h-1zM642 108h1v1h-1zM642 109h1v1h-1zM642 112h1v1h-1zM642 114h1v1h-1zM642 116h1v1h-1zM642 120h1v1h-1zM642 121h1v1h-1zM642 123h1v1h-1zM642 124h1v1h-1zM642 125h1v1h-1zM642 126h1v1h-1zM642 127h1v1h-1zM642 130h1v1h-1zM642 133h1v1h-1zM642 134h1v1h-1zM642 135h1v1h-1zM642 136h1v1h-1zM643 53h1v1h-1zM643 54h1v1h-1zM643 69h1v1h-1zM643 77h1v1h-1zM643 80h1v1h-1zM643 86h1v1h-1zM643 87h1v1h-1zM643 88h1v1h-1zM643 92h1v1h-1zM643 93h1v1h-1zM643 98h1v1h-1zM643 100h1v1h-1zM643 102h1v1h-1zM643 105h1v1h-1zM643 106h1v1h-1zM643 107h1v1h-1zM643 108h1v1h-1zM643 109h1v1h-1zM643 110h1v1h-1zM643 111h1v1h-1zM643 112h1v1h-1zM643 116h1v1h-1zM643 118h1v1h-1zM643 123h1v1h-1zM643 124h1v1h-1zM643 125h1v1h-1zM643 127h1v1h-1zM643 128h1v1h-1zM643 129h1v1h-1zM643 131h1v1h-1zM643 132h1v1h-1zM643 133h1v1h-1zM643 134h1v1h-1zM644 65h1v1h-1zM644 79h1v1h-1zM644 82h1v1h-1zM644 87h1v1h-1zM644 89h1v1h-1zM644 90h1v1h-1zM644 91h1v1h-1zM644 92h1v1h-1zM644 93h1v1h-1zM644 95h1v1h-1zM644 97h1v1h-1zM644 99h1v1h-1zM644 100h1v1h-1zM644 101h1v1h-1zM644 102h1v1h-1zM644 103h1v1h-1zM644 107h1v1h-1zM644 108h1v1h-1zM644 109h1v1h-1zM644 110h1v1h-1zM644 111h1v1h-1zM644 112h1v1h-1zM644 113h1v1h-1zM644 118h1v1h-1zM644 119h1v1h-1zM644 120h1v1h-1zM644 127h1v1h-1zM644 130h1v1h-1zM644 134h1v1h-1zM644 135h1v1h-1zM644 137h1v1h-1zM645 55h1v1h-1zM645 59h1v1h-1zM645 73h1v1h-1zM645 80h1v1h-1zM645 85h1v1h-1zM645 86h1v1h-1zM645 92h1v1h-1zM645 93h1v1h-1zM645 95h1v1h-1zM645 98h1v1h-1zM645 100h1v1h-1zM645 102h1v1h-1zM645 103h1v1h-1zM645 104h1v1h-1zM645 106h1v1h-1zM645 107h1v1h-1zM645 109h1v1h-1zM645 112h1v1h-1zM645 114h1v1h-1zM645 115h1v1h-1zM645 116h1v1h-1zM645 117h1v1h-1zM645 119h1v1h-1zM645 120h1v1h-1zM645 121h1v1h-1zM645 124h1v1h-1zM645 125h1v1h-1zM645 126h1v1h-1zM645 130h1v1h-1zM645 135h1v1h-1zM645 136h1v1h-1zM645 138h1v1h-1zM646 57h1v1h-1zM646 64h1v1h-1zM646 70h1v1h-1zM646 74h1v1h-1zM646 78h1v1h-1zM646 82h1v1h-1zM646 84h1v1h-1zM646 91h1v1h-1zM646 97h1v1h-1zM646 98h1v1h-1zM646 100h1v1h-1zM646 104h1v1h-1zM646 105h1v1h-1zM646 106h1v1h-1zM646 109h1v1h-1zM646 110h1v1h-1zM646 111h1v1h-1zM646 112h1v1h-1zM646 113h1v1h-1zM646 115h1v1h-1zM646 118h1v1h-1zM646 119h1v1h-1zM646 124h1v1h-1zM646 125h1v1h-1zM646 126h1v1h-1zM646 130h1v1h-1zM646 132h1v1h-1zM646 133h1v1h-1zM646 134h1v1h-1zM646 135h1v1h-1zM646 136h1v1h-1zM646 137h1v1h-1zM647 71h1v1h-1zM647 87h1v1h-1zM647 95h1v1h-1zM647 97h1v1h-1zM647 98h1v1h-1zM647 100h1v1h-1zM647 109h1v1h-1zM647 111h1v1h-1zM647 113h1v1h-1zM647 117h1v1h-1zM647 121h1v1h-1zM647 124h1v1h-1zM647 126h1v1h-1zM647 127h1v1h-1zM647 129h1v1h-1zM647 132h1v1h-1zM647 133h1v1h-1zM647 137h1v1h-1zM648 69h1v1h-1zM648 86h1v1h-1zM648 89h1v1h-1zM648 92h1v1h-1zM648 97h1v1h-1zM648 99h1v1h-1zM648 101h1v1h-1zM648 102h1v1h-1zM648 103h1v1h-1zM648 105h1v1h-1zM648 106h1v1h-1zM648 109h1v1h-1zM648 111h1v1h-1zM648 112h1v1h-1zM648 113h1v1h-1zM648 114h1v1h-1zM648 115h1v1h-1zM648 120h1v1h-1zM648 121h1v1h-1zM648 128h1v1h-1zM648 129h1v1h-1zM648 132h1v1h-1zM648 134h1v1h-1zM648 135h1v1h-1zM648 137h1v1h-1zM649 67h1v1h-1zM649 86h1v1h-1zM649 89h1v1h-1zM649 91h1v1h-1zM649 93h1v1h-1zM649 98h1v1h-1zM649 102h1v1h-1zM649 103h1v1h-1zM649 104h1v1h-1zM649 108h1v1h-1zM649 109h1v1h-1zM649 110h1v1h-1zM649 111h1v1h-1zM649 112h1v1h-1zM649 113h1v1h-1zM649 114h1v1h-1zM649 115h1v1h-1zM649 116h1v1h-1zM649 118h1v1h-1zM649 119h1v1h-1zM649 120h1v1h-1zM649 123h1v1h-1zM649 125h1v1h-1zM649 126h1v1h-1zM649 127h1v1h-1zM649 128h1v1h-1zM649 130h1v1h-1zM649 133h1v1h-1zM649 135h1v1h-1zM650 86h1v1h-1zM650 87h1v1h-1zM650 88h1v1h-1zM650 93h1v1h-1zM650 96h1v1h-1zM650 97h1v1h-1zM650 100h1v1h-1zM650 102h1v1h-1zM650 105h1v1h-1zM650 106h1v1h-1zM650 108h1v1h-1zM650 109h1v1h-1zM650 113h1v1h-1zM650 114h1v1h-1zM650 115h1v1h-1zM650 116h1v1h-1zM650 117h1v1h-1zM650 119h1v1h-1zM650 120h1v1h-1zM650 123h1v1h-1zM650 125h1v1h-1zM650 126h1v1h-1zM650 128h1v1h-1zM650 129h1v1h-1zM650 132h1v1h-1zM650 134h1v1h-1zM651 94h1v1h-1zM651 97h1v1h-1zM651 101h1v1h-1zM651 103h1v1h-1zM651 105h1v1h-1zM651 108h1v1h-1zM651 109h1v1h-1zM651 114h1v1h-1zM651 115h1v1h-1zM651 117h1v1h-1zM651 127h1v1h-1zM651 129h1v1h-1zM651 133h1v1h-1zM651 136h1v1h-1zM651 137h1v1h-1zM652 89h1v1h-1zM652 92h1v1h-1zM652 93h1v1h-1zM652 98h1v1h-1zM652 101h1v1h-1zM652 102h1v1h-1zM652 103h1v1h-1zM652 104h1v1h-1zM652 106h1v1h-1zM652 108h1v1h-1zM652 110h1v1h-1zM652 117h1v1h-1zM652 119h1v1h-1zM652 120h1v1h-1zM652 122h1v1h-1zM652 128h1v1h-1zM652 130h1v1h-1zM652 131h1v1h-1zM652 135h1v1h-1zM652 136h1v1h-1zM653 89h1v1h-1zM653 91h1v1h-1zM653 97h1v1h-1zM653 99h1v1h-1zM653 100h1v1h-1zM653 103h1v1h-1zM653 108h1v1h-1zM653 111h1v1h-1zM653 113h1v1h-1zM653 116h1v1h-1zM653 122h1v1h-1zM653 123h1v1h-1zM653 124h1v1h-1zM653 125h1v1h-1zM653 130h1v1h-1zM653 136h1v1h-1zM653 138h1v1h-1zM654 92h1v1h-1zM654 97h1v1h-1zM654 98h1v1h-1zM654 100h1v1h-1zM654 104h1v1h-1zM654 105h1v1h-1zM654 106h1v1h-1zM654 107h1v1h-1zM654 113h1v1h-1zM654 114h1v1h-1zM654 115h1v1h-1zM654 117h1v1h-1zM654 119h1v1h-1zM654 121h1v1h-1zM654 122h1v1h-1zM654 124h1v1h-1zM654 125h1v1h-1zM654 126h1v1h-1zM654 128h1v1h-1zM654 131h1v1h-1zM654 133h1v1h-1zM655 90h1v1h-1zM655 92h1v1h-1zM655 96h1v1h-1zM655 97h1v1h-1zM655 98h1v1h-1zM655 100h1v1h-1zM655 101h1v1h-1zM655 102h1v1h-1zM655 104h1v1h-1zM655 105h1v1h-1zM655 107h1v1h-1zM655 112h1v1h-1zM655 116h1v1h-1zM655 121h1v1h-1zM655 122h1v1h-1zM655 123h1v1h-1zM655 124h1v1h-1zM655 126h1v1h-1zM655 128h1v1h-1zM655 130h1v1h-1zM655 137h1v1h-1zM655 139h1v1h-1zM656 93h1v1h-1zM656 95h1v1h-1zM656 98h1v1h-1zM656 100h1v1h-1zM656 102h1v1h-1zM656 103h1v1h-1zM656 105h1v1h-1zM656 106h1v1h-1zM656 107h1v1h-1zM656 111h1v1h-1zM656 114h1v1h-1zM656 116h1v1h-1zM656 117h1v1h-1zM656 118h1v1h-1zM656 120h1v1h-1zM656 121h1v1h-1zM656 122h1v1h-1zM656 123h1v1h-1zM656 124h1v1h-1zM656 126h1v1h-1zM656 128h1v1h-1zM656 131h1v1h-1zM656 133h1v1h-1zM656 136h1v1h-1zM656 138h1v1h-1zM657 92h1v1h-1zM657 93h1v1h-1zM657 94h1v1h-1zM657 102h1v1h-1zM657 107h1v1h-1zM657 108h1v1h-1zM657 111h1v1h-1zM657 114h1v1h-1zM657 118h1v1h-1zM657 119h1v1h-1zM657 120h1v1h-1zM657 123h1v1h-1zM657 124h1v1h-1zM657 125h1v1h-1zM657 127h1v1h-1zM657 130h1v1h-1zM657 131h1v1h-1zM657 136h1v1h-1zM657 137h1v1h-1zM657 138h1v1h-1zM658 96h1v1h-1zM658 97h1v1h-1zM658 99h1v1h-1zM658 100h1v1h-1zM658 101h1v1h-1zM658 102h1v1h-1zM658 103h1v1h-1zM658 104h1v1h-1zM658 105h1v1h-1zM658 106h1v1h-1zM658 107h1v1h-1zM658 113h1v1h-1zM658 116h1v1h-1zM658 117h1v1h-1zM658 118h1v1h-1zM658 123h1v1h-1zM658 124h1v1h-1zM658 126h1v1h-1zM658 130h1v1h-1zM658 132h1v1h-1zM658 133h1v1h-1zM658 134h1v1h-1zM658 136h1v1h-1zM658 137h1v1h-1zM658 138h1v1h-1zM659 101h1v1h-1zM659 103h1v1h-1zM659 104h1v1h-1zM659 107h1v1h-1zM659 108h1v1h-1zM659 109h1v1h-1zM659 114h1v1h-1zM659 115h1v1h-1zM659 122h1v1h-1zM659 124h1v1h-1zM659 125h1v1h-1zM659 126h1v1h-1zM659 127h1v1h-1zM659 129h1v1h-1zM659 131h1v1h-1zM659 132h1v1h-1zM659 135h1v1h-1zM659 137h1v1h-1zM659 138h1v1h-1zM659 140h1v1h-1zM660 91h1v1h-1zM660 98h1v1h-1zM660 103h1v1h-1zM660 107h1v1h-1zM660 109h1v1h-1zM660 111h1v1h-1zM660 112h1v1h-1zM660 115h1v1h-1zM660 118h1v1h-1zM660 119h1v1h-1zM660 120h1v1h-1zM660 122h1v1h-1zM660 123h1v1h-1zM660 124h1v1h-1zM660 126h1v1h-1zM660 127h1v1h-1zM660 128h1v1h-1zM660 129h1v1h-1zM660 130h1v1h-1zM660 131h1v1h-1zM660 133h1v1h-1zM660 134h1v1h-1zM660 136h1v1h-1zM661 99h1v1h-1zM661 100h1v1h-1zM661 102h1v1h-1zM661 104h1v1h-1zM661 108h1v1h-1zM661 110h1v1h-1zM661 111h1v1h-1zM661 113h1v1h-1zM661 114h1v1h-1zM661 115h1v1h-1zM661 116h1v1h-1zM661 120h1v1h-1zM661 122h1v1h-1zM661 124h1v1h-1zM661 126h1v1h-1zM661 127h1v1h-1zM661 128h1v1h-1zM661 130h1v1h-1zM661 133h1v1h-1zM661 134h1v1h-1zM661 135h1v1h-1zM661 140h1v1h-1zM662 99h1v1h-1zM662 100h1v1h-1zM662 103h1v1h-1zM662 104h1v1h-1zM662 108h1v1h-1zM662 112h1v1h-1zM662 113h1v1h-1zM662 116h1v1h-1zM662 119h1v1h-1zM662 123h1v1h-1zM662 125h1v1h-1zM662 126h1v1h-1zM662 127h1v1h-1zM662 130h1v1h-1zM662 131h1v1h-1zM662 132h1v1h-1zM662 135h1v1h-1zM662 136h1v1h-1zM662 139h1v1h-1zM662 141h1v1h-1zM663 100h1v1h-1zM663 103h1v1h-1zM663 106h1v1h-1zM663 107h1v1h-1zM663 108h1v1h-1zM663 109h1v1h-1zM663 110h1v1h-1zM663 111h1v1h-1zM663 113h1v1h-1zM663 114h1v1h-1zM663 117h1v1h-1zM663 118h1v1h-1zM663 121h1v1h-1zM663 122h1v1h-1zM663 124h1v1h-1zM663 125h1v1h-1zM663 126h1v1h-1zM663 127h1v1h-1zM663 128h1v1h-1zM663 129h1v1h-1zM663 130h1v1h-1zM663 131h1v1h-1zM663 132h1v1h-1zM663 133h1v1h-1zM663 135h1v1h-1zM663 136h1v1h-1zM663 139h1v1h-1zM664 109h1v1h-1zM664 111h1v1h-1zM664 121h1v1h-1zM664 123h1v1h-1zM664 124h1v1h-1zM664 125h1v1h-1zM664 126h1v1h-1zM664 129h1v1h-1zM664 130h1v1h-1zM664 131h1v1h-1zM664 132h1v1h-1zM664 134h1v1h-1zM664 135h1v1h-1zM664 136h1v1h-1zM664 137h1v1h-1zM664 138h1v1h-1zM665 105h1v1h-1zM665 108h1v1h-1zM665 111h1v1h-1zM665 112h1v1h-1zM665 113h1v1h-1zM665 116h1v1h-1zM665 122h1v1h-1zM665 125h1v1h-1zM665 126h1v1h-1zM665 127h1v1h-1zM665 130h1v1h-1zM665 131h1v1h-1zM665 133h1v1h-1zM665 137h1v1h-1zM665 138h1v1h-1zM665 140h1v1h-1zM665 141h1v1h-1zM666 110h1v1h-1zM666 111h1v1h-1zM666 113h1v1h-1zM666 117h1v1h-1zM666 118h1v1h-1zM666 120h1v1h-1zM666 123h1v1h-1zM666 124h1v1h-1zM666 125h1v1h-1zM666 126h1v1h-1zM666 127h1v1h-1zM666 128h1v1h-1zM666 133h1v1h-1zM666 136h1v1h-1zM666 137h1v1h-1zM666 139h1v1h-1zM667 111h1v1h-1zM667 112h1v1h-1zM667 116h1v1h-1zM667 119h1v1h-1zM667 122h1v1h-1zM667 123h1v1h-1zM667 126h1v1h-1zM667 127h1v1h-1zM667 128h1v1h-1zM667 129h1v1h-1zM667 130h1v1h-1zM667 132h1v1h-1zM667 134h1v1h-1zM667 135h1v1h-1zM667 137h1v1h-1zM667 142h1v1h-1zM668 109h1v1h-1zM668 112h1v1h-1zM668 120h1v1h-1zM668 124h1v1h-1zM668 125h1v1h-1zM668 126h1v1h-1zM668 127h1v1h-1zM668 128h1v1h-1zM668 129h1v1h-1zM668 130h1v1h-1zM668 134h1v1h-1zM668 138h1v1h-1zM668 139h1v1h-1zM669 116h1v1h-1zM669 117h1v1h-1zM669 118h1v1h-1zM669 120h1v1h-1zM669 122h1v1h-1zM669 123h1v1h-1zM669 124h1v1h-1zM669 125h1v1h-1zM669 127h1v1h-1zM669 128h1v1h-1zM669 129h1v1h-1zM669 130h1v1h-1zM669 131h1v1h-1zM669 132h1v1h-1zM669 133h1v1h-1zM669 135h1v1h-1zM669 137h1v1h-1zM669 139h1v1h-1zM670 119h1v1h-1zM670 120h1v1h-1zM670 126h1v1h-1zM670 128h1v1h-1zM670 134h1v1h-1zM670 137h1v1h-1zM670 139h1v1h-1zM670 140h1v1h-1zM670 142h1v1h-1zM671 116h1v1h-1zM671 121h1v1h-1zM671 125h1v1h-1zM671 126h1v1h-1zM671 129h1v1h-1zM671 130h1v1h-1zM671 133h1v1h-1zM671 135h1v1h-1zM671 137h1v1h-1zM671 138h1v1h-1zM671 140h1v1h-1zM671 141h1v1h-1zM671 142h1v1h-1zM671 143h1v1h-1zM672 118h1v1h-1zM672 122h1v1h-1zM672 124h1v1h-1zM672 126h1v1h-1zM672 127h1v1h-1zM672 130h1v1h-1zM672 134h1v1h-1zM672 138h1v1h-1zM672 141h1v1h-1zM672 143h1v1h-1zM673 122h1v1h-1zM673 126h1v1h-1zM673 128h1v1h-1zM673 130h1v1h-1zM673 131h1v1h-1zM673 132h1v1h-1zM673 133h1v1h-1zM673 134h1v1h-1zM673 135h1v1h-1zM673 136h1v1h-1zM673 138h1v1h-1zM674 126h1v1h-1zM674 130h1v1h-1zM674 131h1v1h-1zM674 132h1v1h-1zM674 133h1v1h-1zM674 135h1v1h-1zM674 136h1v1h-1zM674 137h1v1h-1zM675 130h1v1h-1zM675 131h1v1h-1zM675 133h1v1h-1zM675 135h1v1h-1zM675 136h1v1h-1zM675 137h1v1h-1zM676 129h1v1h-1zM676 130h1v1h-1zM676 131h1v1h-1zM676 132h1v1h-1zM676 133h1v1h-1zM676 134h1v1h-1zM677 129h1v1h-1zM677 132h1v1h-1zM677 135h1v1h-1zM677 137h1v1h-1zM678 131h1v1h-1zM678 133h1v1h-1zM678 135h1v1h-1zM678 136h1v1h-1zM678 138h1v1h-1zM679 130h1v1h-1zM679 134h1v1h-1zM679 135h1v1h-1zM679 136h1v1h-1z"/>
<g fill="none" stroke="#0a840a" stroke-width="7" stroke-linecap="round" stroke-linejoin="round">
<path d="M499 38 L511 44 L526 50 L536 58 L543 67 L550 80 L555 94 L558 110 L559 119"/>
<path d="M513 35 L524 44 L532 52"/>
<path d="M556 80 L561 103 L563 119 L567 117 L581 90 L590 77 L599 67 L605 61"/>
<path d="M607 37 L605 50 L602 90 L599 119 L594 122"/>
<path d="M636 60 L629 80 L620 107"/>
<path d="M636 113 L643 127 L663 117"/>
<path d="M497 80 L502 100 L507 120 L511 135 L513 143 L508 155 L505 170 L497 188"/>
<path d="M475 104 L487 118 L495 127 L505 135 L512 142"/>
<path d="M535 113 L543 122 L550 128 L562 136 L578 130 L590 126 L595 121"/>
<path d="M562 134 L564 150 L560 167 L554 176 L562 187"/>
<path d="M594 122 L608 132 L625 126"/>
<path d="M610 133 L611 145 L622 158 L630 173 L627 186"/>
</g>
<path fill="none" stroke="#0a840a" stroke-width="7" stroke-linecap="round" d="M519.5 492.5L523 501L526.5 508.5M531.5 507L540 501L547 495.5M532.5 519.5L531 530L529.5 541"/>
<ellipse cx="667" cy="134" rx="6" ry="4" fill="#0a840a"/>
<ellipse cx="552" cy="513" rx="7" ry="4.5" fill="#0a840a"/>
<ellipse cx="497" cy="188" rx="4.3" ry="4.3" fill="#0a840a"/>
<ellipse cx="562" cy="187" rx="4.3" ry="4.3" fill="#0a840a"/>
<ellipse cx="627" cy="186" rx="4.3" ry="4.3" fill="#0a840a"/>
<ellipse cx="499" cy="38" rx="4" ry="4" fill="#0a840a"/>
<!--/PLANTS-->
</svg>
</body></html>
